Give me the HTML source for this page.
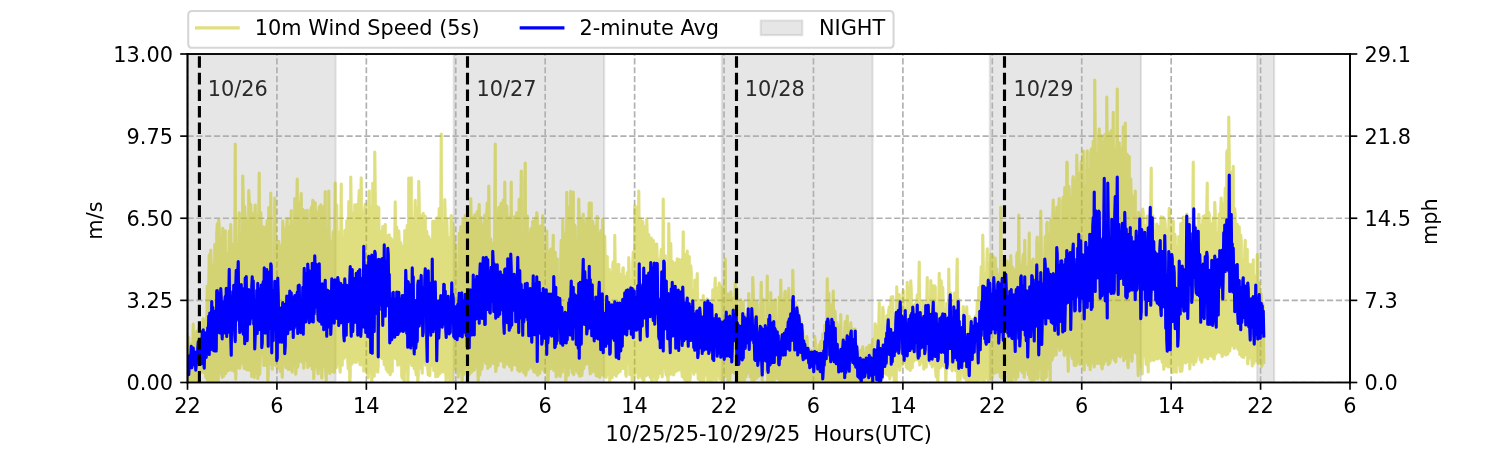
<!DOCTYPE html>
<html><head><meta charset="utf-8"><title>Wind Speed</title>
<style>html,body{margin:0;padding:0;background:#fff;overflow:hidden}svg{display:block}</style>
</head><body>
<svg width="1500" height="450" viewBox="0 0 720 216" version="1.1">
  <defs>
  <style type="text/css">*{stroke-linejoin: round; stroke-linecap: butt}</style>
 </defs>
 <g id="figure_1">
  <g id="patch_1">
   <path d="M 0 216 L 720 216 L 720 0 L 0 0 z
" style="fill: #ffffff"/>
  </g>
  <g id="axes_1">
   <g id="patch_2">
    <path d="M 90 183.6 L 648 183.6 L 648 25.92 L 90 25.92 z
" style="fill: #ffffff"/>
   </g>
   <g id="patch_3">
    <path d="M 79.269231 183.6 L 161.088 183.6 L 161.088 25.92 L 79.269231 25.92 z
" clip-path="url(#pb94ecb44f5)" style="fill: #808080; fill-opacity: 0.2; stroke-opacity: 0.2; stroke: #808080; stroke-linejoin: miter"/>
   </g>
   <g id="patch_4">
    <path d="M 217.776 183.6 L 290.016 183.6 L 290.016 25.92 L 217.776 25.92 z
" clip-path="url(#pb94ecb44f5)" style="fill: #808080; fill-opacity: 0.2; stroke-opacity: 0.2; stroke: #808080; stroke-linejoin: miter"/>
   </g>
   <g id="patch_5">
    <path d="M 346.464 183.6 L 418.848 183.6 L 418.848 25.92 L 346.464 25.92 z
" clip-path="url(#pb94ecb44f5)" style="fill: #808080; fill-opacity: 0.2; stroke-opacity: 0.2; stroke: #808080; stroke-linejoin: miter"/>
   </g>
   <g id="patch_6">
    <path d="M 475.104 183.6 L 547.68 183.6 L 547.68 25.92 L 475.104 25.92 z
" clip-path="url(#pb94ecb44f5)" style="fill: #808080; fill-opacity: 0.2; stroke-opacity: 0.2; stroke: #808080; stroke-linejoin: miter"/>
   </g>
   <g id="patch_7">
    <path d="M 603.456 183.6 L 611.616 183.6 L 611.616 25.92 L 603.456 25.92 z
" clip-path="url(#pb94ecb44f5)" style="fill: #808080; fill-opacity: 0.2; stroke-opacity: 0.2; stroke: #808080; stroke-linejoin: miter"/>
   </g>
   <g id="matplotlib.axis_1">
    <g id="xtick_1">
     <g id="line2d_1">
      <path d="M 90 183.6 L 90 25.92 " clip-path="url(#pb94ecb44f5)" style="fill: none; stroke-dasharray: 2.96,1.28; stroke-dashoffset: 0; stroke: #b0b0b0; stroke-width: 0.8"/>
     </g>
     <g id="line2d_2">
            <g>
       <path d="M 0 0 L 0 3.5" transform="translate(90 183.6)" style="stroke: #000000; stroke-width: 0.8"/>
      </g>
     </g>
     <g id="text_1">
      <text style="font-size: 10px; font-family: 'DejaVu Sans', 'Bitstream Vera Sans', 'Computer Modern Sans Serif', 'Lucida Grande', 'Verdana', 'Geneva', 'Lucid', 'Arial', 'Helvetica', 'Avant Garde', sans-serif; text-anchor: middle" x="90" y="198.198438" transform="rotate(-0 90 198.198438)">22</text>
     </g>
    </g>
    <g id="xtick_2">
     <g id="line2d_3">
      <path d="M 132.923077 183.6 L 132.923077 25.92 " clip-path="url(#pb94ecb44f5)" style="fill: none; stroke-dasharray: 2.96,1.28; stroke-dashoffset: 0; stroke: #b0b0b0; stroke-width: 0.8"/>
     </g>
     <g id="line2d_4">
      <g>
       <path d="M 0 0 L 0 3.5" transform="translate(132.923077 183.6)" style="stroke: #000000; stroke-width: 0.8"/>
      </g>
     </g>
     <g id="text_2">
      <text style="font-size: 10px; font-family: 'DejaVu Sans', 'Bitstream Vera Sans', 'Computer Modern Sans Serif', 'Lucida Grande', 'Verdana', 'Geneva', 'Lucid', 'Arial', 'Helvetica', 'Avant Garde', sans-serif; text-anchor: middle" x="132.923077" y="198.198438" transform="rotate(-0 132.923077 198.198438)">6</text>
     </g>
    </g>
    <g id="xtick_3">
     <g id="line2d_5">
      <path d="M 175.846154 183.6 L 175.846154 25.92 " clip-path="url(#pb94ecb44f5)" style="fill: none; stroke-dasharray: 2.96,1.28; stroke-dashoffset: 0; stroke: #b0b0b0; stroke-width: 0.8"/>
     </g>
     <g id="line2d_6">
      <g>
       <path d="M 0 0 L 0 3.5" transform="translate(175.846154 183.6)" style="stroke: #000000; stroke-width: 0.8"/>
      </g>
     </g>
     <g id="text_3">
      <text style="font-size: 10px; font-family: 'DejaVu Sans', 'Bitstream Vera Sans', 'Computer Modern Sans Serif', 'Lucida Grande', 'Verdana', 'Geneva', 'Lucid', 'Arial', 'Helvetica', 'Avant Garde', sans-serif; text-anchor: middle" x="175.846154" y="198.198438" transform="rotate(-0 175.846154 198.198438)">14</text>
     </g>
    </g>
    <g id="xtick_4">
     <g id="line2d_7">
      <path d="M 218.769231 183.6 L 218.769231 25.92 " clip-path="url(#pb94ecb44f5)" style="fill: none; stroke-dasharray: 2.96,1.28; stroke-dashoffset: 0; stroke: #b0b0b0; stroke-width: 0.8"/>
     </g>
     <g id="line2d_8">
      <g>
       <path d="M 0 0 L 0 3.5" transform="translate(218.769231 183.6)" style="stroke: #000000; stroke-width: 0.8"/>
      </g>
     </g>
     <g id="text_4">
      <text style="font-size: 10px; font-family: 'DejaVu Sans', 'Bitstream Vera Sans', 'Computer Modern Sans Serif', 'Lucida Grande', 'Verdana', 'Geneva', 'Lucid', 'Arial', 'Helvetica', 'Avant Garde', sans-serif; text-anchor: middle" x="218.769231" y="198.198438" transform="rotate(-0 218.769231 198.198438)">22</text>
     </g>
    </g>
    <g id="xtick_5">
     <g id="line2d_9">
      <path d="M 261.692308 183.6 L 261.692308 25.92 " clip-path="url(#pb94ecb44f5)" style="fill: none; stroke-dasharray: 2.96,1.28; stroke-dashoffset: 0; stroke: #b0b0b0; stroke-width: 0.8"/>
     </g>
     <g id="line2d_10">
      <g>
       <path d="M 0 0 L 0 3.5" transform="translate(261.692308 183.6)" style="stroke: #000000; stroke-width: 0.8"/>
      </g>
     </g>
     <g id="text_5">
      <text style="font-size: 10px; font-family: 'DejaVu Sans', 'Bitstream Vera Sans', 'Computer Modern Sans Serif', 'Lucida Grande', 'Verdana', 'Geneva', 'Lucid', 'Arial', 'Helvetica', 'Avant Garde', sans-serif; text-anchor: middle" x="261.692308" y="198.198438" transform="rotate(-0 261.692308 198.198438)">6</text>
     </g>
    </g>
    <g id="xtick_6">
     <g id="line2d_11">
      <path d="M 304.615385 183.6 L 304.615385 25.92 " clip-path="url(#pb94ecb44f5)" style="fill: none; stroke-dasharray: 2.96,1.28; stroke-dashoffset: 0; stroke: #b0b0b0; stroke-width: 0.8"/>
     </g>
     <g id="line2d_12">
      <g>
       <path d="M 0 0 L 0 3.5" transform="translate(304.615385 183.6)" style="stroke: #000000; stroke-width: 0.8"/>
      </g>
     </g>
     <g id="text_6">
      <text style="font-size: 10px; font-family: 'DejaVu Sans', 'Bitstream Vera Sans', 'Computer Modern Sans Serif', 'Lucida Grande', 'Verdana', 'Geneva', 'Lucid', 'Arial', 'Helvetica', 'Avant Garde', sans-serif; text-anchor: middle" x="304.615385" y="198.198438" transform="rotate(-0 304.615385 198.198438)">14</text>
     </g>
    </g>
    <g id="xtick_7">
     <g id="line2d_13">
      <path d="M 347.538462 183.6 L 347.538462 25.92 " clip-path="url(#pb94ecb44f5)" style="fill: none; stroke-dasharray: 2.96,1.28; stroke-dashoffset: 0; stroke: #b0b0b0; stroke-width: 0.8"/>
     </g>
     <g id="line2d_14">
      <g>
       <path d="M 0 0 L 0 3.5" transform="translate(347.538462 183.6)" style="stroke: #000000; stroke-width: 0.8"/>
      </g>
     </g>
     <g id="text_7">
      <text style="font-size: 10px; font-family: 'DejaVu Sans', 'Bitstream Vera Sans', 'Computer Modern Sans Serif', 'Lucida Grande', 'Verdana', 'Geneva', 'Lucid', 'Arial', 'Helvetica', 'Avant Garde', sans-serif; text-anchor: middle" x="347.538462" y="198.198438" transform="rotate(-0 347.538462 198.198438)">22</text>
     </g>
    </g>
    <g id="xtick_8">
     <g id="line2d_15">
      <path d="M 390.461538 183.6 L 390.461538 25.92 " clip-path="url(#pb94ecb44f5)" style="fill: none; stroke-dasharray: 2.96,1.28; stroke-dashoffset: 0; stroke: #b0b0b0; stroke-width: 0.8"/>
     </g>
     <g id="line2d_16">
      <g>
       <path d="M 0 0 L 0 3.5" transform="translate(390.461538 183.6)" style="stroke: #000000; stroke-width: 0.8"/>
      </g>
     </g>
     <g id="text_8">
      <text style="font-size: 10px; font-family: 'DejaVu Sans', 'Bitstream Vera Sans', 'Computer Modern Sans Serif', 'Lucida Grande', 'Verdana', 'Geneva', 'Lucid', 'Arial', 'Helvetica', 'Avant Garde', sans-serif; text-anchor: middle" x="390.461538" y="198.198438" transform="rotate(-0 390.461538 198.198438)">6</text>
     </g>
    </g>
    <g id="xtick_9">
     <g id="line2d_17">
      <path d="M 433.384615 183.6 L 433.384615 25.92 " clip-path="url(#pb94ecb44f5)" style="fill: none; stroke-dasharray: 2.96,1.28; stroke-dashoffset: 0; stroke: #b0b0b0; stroke-width: 0.8"/>
     </g>
     <g id="line2d_18">
      <g>
       <path d="M 0 0 L 0 3.5" transform="translate(433.384615 183.6)" style="stroke: #000000; stroke-width: 0.8"/>
      </g>
     </g>
     <g id="text_9">
      <text style="font-size: 10px; font-family: 'DejaVu Sans', 'Bitstream Vera Sans', 'Computer Modern Sans Serif', 'Lucida Grande', 'Verdana', 'Geneva', 'Lucid', 'Arial', 'Helvetica', 'Avant Garde', sans-serif; text-anchor: middle" x="433.384615" y="198.198438" transform="rotate(-0 433.384615 198.198438)">14</text>
     </g>
    </g>
    <g id="xtick_10">
     <g id="line2d_19">
      <path d="M 476.307692 183.6 L 476.307692 25.92 " clip-path="url(#pb94ecb44f5)" style="fill: none; stroke-dasharray: 2.96,1.28; stroke-dashoffset: 0; stroke: #b0b0b0; stroke-width: 0.8"/>
     </g>
     <g id="line2d_20">
      <g>
       <path d="M 0 0 L 0 3.5" transform="translate(476.307692 183.6)" style="stroke: #000000; stroke-width: 0.8"/>
      </g>
     </g>
     <g id="text_10">
      <text style="font-size: 10px; font-family: 'DejaVu Sans', 'Bitstream Vera Sans', 'Computer Modern Sans Serif', 'Lucida Grande', 'Verdana', 'Geneva', 'Lucid', 'Arial', 'Helvetica', 'Avant Garde', sans-serif; text-anchor: middle" x="476.307692" y="198.198438" transform="rotate(-0 476.307692 198.198438)">22</text>
     </g>
    </g>
    <g id="xtick_11">
     <g id="line2d_21">
      <path d="M 519.230769 183.6 L 519.230769 25.92 " clip-path="url(#pb94ecb44f5)" style="fill: none; stroke-dasharray: 2.96,1.28; stroke-dashoffset: 0; stroke: #b0b0b0; stroke-width: 0.8"/>
     </g>
     <g id="line2d_22">
      <g>
       <path d="M 0 0 L 0 3.5" transform="translate(519.230769 183.6)" style="stroke: #000000; stroke-width: 0.8"/>
      </g>
     </g>
     <g id="text_11">
      <text style="font-size: 10px; font-family: 'DejaVu Sans', 'Bitstream Vera Sans', 'Computer Modern Sans Serif', 'Lucida Grande', 'Verdana', 'Geneva', 'Lucid', 'Arial', 'Helvetica', 'Avant Garde', sans-serif; text-anchor: middle" x="519.230769" y="198.198438" transform="rotate(-0 519.230769 198.198438)">6</text>
     </g>
    </g>
    <g id="xtick_12">
     <g id="line2d_23">
      <path d="M 562.153846 183.6 L 562.153846 25.92 " clip-path="url(#pb94ecb44f5)" style="fill: none; stroke-dasharray: 2.96,1.28; stroke-dashoffset: 0; stroke: #b0b0b0; stroke-width: 0.8"/>
     </g>
     <g id="line2d_24">
      <g>
       <path d="M 0 0 L 0 3.5" transform="translate(562.153846 183.6)" style="stroke: #000000; stroke-width: 0.8"/>
      </g>
     </g>
     <g id="text_12">
      <text style="font-size: 10px; font-family: 'DejaVu Sans', 'Bitstream Vera Sans', 'Computer Modern Sans Serif', 'Lucida Grande', 'Verdana', 'Geneva', 'Lucid', 'Arial', 'Helvetica', 'Avant Garde', sans-serif; text-anchor: middle" x="562.153846" y="198.198438" transform="rotate(-0 562.153846 198.198438)">14</text>
     </g>
    </g>
    <g id="xtick_13">
     <g id="line2d_25">
      <path d="M 605.076923 183.6 L 605.076923 25.92 " clip-path="url(#pb94ecb44f5)" style="fill: none; stroke-dasharray: 2.96,1.28; stroke-dashoffset: 0; stroke: #b0b0b0; stroke-width: 0.8"/>
     </g>
     <g id="line2d_26">
      <g>
       <path d="M 0 0 L 0 3.5" transform="translate(605.076923 183.6)" style="stroke: #000000; stroke-width: 0.8"/>
      </g>
     </g>
     <g id="text_13">
      <text style="font-size: 10px; font-family: 'DejaVu Sans', 'Bitstream Vera Sans', 'Computer Modern Sans Serif', 'Lucida Grande', 'Verdana', 'Geneva', 'Lucid', 'Arial', 'Helvetica', 'Avant Garde', sans-serif; text-anchor: middle" x="605.076923" y="198.198438" transform="rotate(-0 605.076923 198.198438)">22</text>
     </g>
    </g>
    <g id="xtick_14">
     <g id="line2d_27">
      <path d="M 648 183.6 L 648 25.92 " clip-path="url(#pb94ecb44f5)" style="fill: none; stroke-dasharray: 2.96,1.28; stroke-dashoffset: 0; stroke: #b0b0b0; stroke-width: 0.8"/>
     </g>
     <g id="line2d_28">
      <g>
       <path d="M 0 0 L 0 3.5" transform="translate(648 183.6)" style="stroke: #000000; stroke-width: 0.8"/>
      </g>
     </g>
     <g id="text_14">
      <text style="font-size: 10px; font-family: 'DejaVu Sans', 'Bitstream Vera Sans', 'Computer Modern Sans Serif', 'Lucida Grande', 'Verdana', 'Geneva', 'Lucid', 'Arial', 'Helvetica', 'Avant Garde', sans-serif; text-anchor: middle" x="648" y="198.198438" transform="rotate(-0 648 198.198438)">6</text>
     </g>
    </g>
    <g id="text_15">
     <text style="font-size: 10px; font-family: 'DejaVu Sans', 'Bitstream Vera Sans', 'Computer Modern Sans Serif', 'Lucida Grande', 'Verdana', 'Geneva', 'Lucid', 'Arial', 'Helvetica', 'Avant Garde', sans-serif; text-anchor: middle" x="369" y="211.876563" transform="rotate(-0 369 211.876563)">10/25/25-10/29/25  Hours(UTC)</text>
    </g>
   </g>
   <g id="matplotlib.axis_2">
    <g id="ytick_1">
     <g id="line2d_29">
      <path d="M 90 183.6 L 648 183.6 " clip-path="url(#pb94ecb44f5)" style="fill: none; stroke-dasharray: 2.96,1.28; stroke-dashoffset: 0; stroke: #b0b0b0; stroke-width: 0.8"/>
     </g>
     <g id="line2d_30">
            <g>
       <path d="M 0 0 L -3.5 0" transform="translate(90 183.6)" style="stroke: #000000; stroke-width: 0.8"/>
      </g>
     </g>
     <g id="text_16">
      <text style="font-size: 10px; font-family: 'DejaVu Sans', 'Bitstream Vera Sans', 'Computer Modern Sans Serif', 'Lucida Grande', 'Verdana', 'Geneva', 'Lucid', 'Arial', 'Helvetica', 'Avant Garde', sans-serif; text-anchor: end" x="83" y="187.399219" transform="rotate(-0 83 187.399219)">0.00</text>
     </g>
    </g>
    <g id="ytick_2">
     <g id="line2d_31">
      <path d="M 90 144.18 L 648 144.18 " clip-path="url(#pb94ecb44f5)" style="fill: none; stroke-dasharray: 2.96,1.28; stroke-dashoffset: 0; stroke: #b0b0b0; stroke-width: 0.8"/>
     </g>
     <g id="line2d_32">
      <g>
       <path d="M 0 0 L -3.5 0" transform="translate(90 144.18)" style="stroke: #000000; stroke-width: 0.8"/>
      </g>
     </g>
     <g id="text_17">
      <text style="font-size: 10px; font-family: 'DejaVu Sans', 'Bitstream Vera Sans', 'Computer Modern Sans Serif', 'Lucida Grande', 'Verdana', 'Geneva', 'Lucid', 'Arial', 'Helvetica', 'Avant Garde', sans-serif; text-anchor: end" x="83" y="147.979219" transform="rotate(-0 83 147.979219)">3.25</text>
     </g>
    </g>
    <g id="ytick_3">
     <g id="line2d_33">
      <path d="M 90 104.76 L 648 104.76 " clip-path="url(#pb94ecb44f5)" style="fill: none; stroke-dasharray: 2.96,1.28; stroke-dashoffset: 0; stroke: #b0b0b0; stroke-width: 0.8"/>
     </g>
     <g id="line2d_34">
      <g>
       <path d="M 0 0 L -3.5 0" transform="translate(90 104.76)" style="stroke: #000000; stroke-width: 0.8"/>
      </g>
     </g>
     <g id="text_18">
      <text style="font-size: 10px; font-family: 'DejaVu Sans', 'Bitstream Vera Sans', 'Computer Modern Sans Serif', 'Lucida Grande', 'Verdana', 'Geneva', 'Lucid', 'Arial', 'Helvetica', 'Avant Garde', sans-serif; text-anchor: end" x="83" y="108.559219" transform="rotate(-0 83 108.559219)">6.50</text>
     </g>
    </g>
    <g id="ytick_4">
     <g id="line2d_35">
      <path d="M 90 65.34 L 648 65.34 " clip-path="url(#pb94ecb44f5)" style="fill: none; stroke-dasharray: 2.96,1.28; stroke-dashoffset: 0; stroke: #b0b0b0; stroke-width: 0.8"/>
     </g>
     <g id="line2d_36">
      <g>
       <path d="M 0 0 L -3.5 0" transform="translate(90 65.34)" style="stroke: #000000; stroke-width: 0.8"/>
      </g>
     </g>
     <g id="text_19">
      <text style="font-size: 10px; font-family: 'DejaVu Sans', 'Bitstream Vera Sans', 'Computer Modern Sans Serif', 'Lucida Grande', 'Verdana', 'Geneva', 'Lucid', 'Arial', 'Helvetica', 'Avant Garde', sans-serif; text-anchor: end" x="83" y="69.139219" transform="rotate(-0 83 69.139219)">9.75</text>
     </g>
    </g>
    <g id="ytick_5">
     <g id="line2d_37">
      <path d="M 90 25.92 L 648 25.92 " clip-path="url(#pb94ecb44f5)" style="fill: none; stroke-dasharray: 2.96,1.28; stroke-dashoffset: 0; stroke: #b0b0b0; stroke-width: 0.8"/>
     </g>
     <g id="line2d_38">
      <g>
       <path d="M 0 0 L -3.5 0" transform="translate(90 25.92)" style="stroke: #000000; stroke-width: 0.8"/>
      </g>
     </g>
     <g id="text_20">
      <text style="font-size: 10px; font-family: 'DejaVu Sans', 'Bitstream Vera Sans', 'Computer Modern Sans Serif', 'Lucida Grande', 'Verdana', 'Geneva', 'Lucid', 'Arial', 'Helvetica', 'Avant Garde', sans-serif; text-anchor: end" x="83" y="29.719219" transform="rotate(-0 83 29.719219)">13.00</text>
     </g>
    </g>
    <g id="text_21">
     <text style="font-size: 10px; font-family: 'DejaVu Sans', 'Bitstream Vera Sans', 'Computer Modern Sans Serif', 'Lucida Grande', 'Verdana', 'Geneva', 'Lucid', 'Arial', 'Helvetica', 'Avant Garde', sans-serif; text-anchor: middle" x="48.772" y="105.864" transform="rotate(-90 48.772 105.864)">m/s</text>
    </g>
   </g>
   <g id="line2d_39">
    <path d="M 90.359481 184.558209 L 90.600923 162.046357 L 90.842365 169.712031 L 91.078442 182.302172 L 91.319885 181.841262 L 91.561327 170.379138 L 91.797404 165.321249 L 92.038846 183.163348 L 92.280288 180.895182 L 92.757808 155.593606 L 92.99925 184.558209 L 93.240692 183.806197 L 93.482135 167.868388 L 93.718212 160.772788 L 93.959654 184.352012 L 94.201096 183.794068 L 94.442538 159.086825 L 94.678615 166.243071 L 94.920058 184.558209 L 95.1615 182.775212 L 95.397577 157.570671 L 95.639019 158.807852 L 95.880462 179.269865 L 96.121904 178.55424 L 96.357981 165.260603 L 96.599423 165.588092 L 96.840865 177.220025 L 97.082308 178.590628 L 97.318385 158.249908 L 97.559827 153.046468 L 97.801269 176.492271 L 98.037346 178.808954 L 98.278788 154.162357 L 98.520231 154.90224 L 98.761673 180.676855 L 98.99775 181.331834 L 99.480635 137.290597 L 99.722077 183.733422 L 99.958154 184.558209 L 100.199596 137.472535 L 100.441038 122.323126 L 100.682481 183.163348 L 100.918558 184.558209 L 101.16 120.05496 L 101.401442 127.805538 L 101.637519 183.272511 L 101.878962 180.91944 L 102.120404 127.417403 L 102.361846 133.942929 L 102.597923 184.558209 L 102.839365 180.664726 L 103.080808 117.435046 L 103.32225 124.457871 L 103.558327 182.847988 L 103.799769 180.094652 L 104.041212 112.292252 L 104.282654 107.452689 L 104.518731 184.558209 L 104.760173 184.558209 L 105.001615 105.596917 L 105.237692 108.956714 L 105.479135 175.825163 L 105.720577 178.748308 L 105.962019 117.471434 L 106.198096 114.269317 L 106.439538 179.427545 L 106.680981 181.125637 L 106.922423 109.551046 L 107.1585 133.251563 L 107.399942 180.519175 L 107.641385 176.856148 L 107.877462 126.228738 L 108.118904 110.776098 L 108.360346 179.197089 L 108.601788 172.865631 L 108.837865 121.619631 L 109.079308 127.817668 L 109.32075 175.703871 L 109.562192 177.899262 L 109.798269 129.04272 L 110.039712 110.933778 L 110.281154 177.098732 L 110.522596 174.939729 L 110.758673 107.804437 L 111.000115 121.595372 L 111.241558 177.693065 L 111.477635 175.703871 L 111.719077 118.32048 L 111.960519 117.410788 L 112.201962 174.551594 L 112.438038 178.263138 L 112.920923 69.12432 L 113.162365 181.926166 L 113.398442 172.489625 L 113.639885 118.63584 L 113.881327 117.240978 L 114.117404 174.600111 L 114.358846 176.383108 L 114.600288 115.579274 L 114.841731 102.127957 L 115.077808 176.759114 L 115.31925 174.418172 L 115.560692 111.746437 L 115.802135 112.32864 L 116.038212 174.333268 L 116.279654 170.379138 L 116.521096 84.479926 L 116.762538 96.318055 L 116.998615 173.156732 L 117.240058 176.844018 L 117.4815 99.095649 L 117.717577 108.495803 L 117.959019 174.563723 L 118.200462 177.329188 L 118.441904 110.715452 L 118.677981 104.626578 L 118.919423 177.583902 L 119.160865 175.703871 L 119.402308 91.527009 L 119.638385 96.366572 L 119.879827 175.000375 L 120.121269 177.935649 L 120.357346 98.088923 L 120.598788 107.197975 L 120.840231 180.725372 L 121.081673 175.885809 L 121.31775 103.34088 L 121.559192 102.576738 L 121.800635 176.795502 L 122.042077 181.174154 L 122.278154 103.668369 L 122.519596 98.404283 L 122.761038 176.152652 L 123.002481 179.02728 L 123.238558 103.547077 L 123.48 107.840825 L 123.721442 181.622935 L 123.957519 179.512449 L 124.198962 103.243846 L 124.440404 83.036548 L 124.681846 179.573095 L 124.917923 170.439785 L 125.159365 102.030923 L 125.400808 110.642677 L 125.64225 169.517963 L 125.878327 170.330622 L 126.119769 115.991668 L 126.361212 108.823292 L 126.602654 175.40064 L 126.838731 173.278025 L 127.080173 115.397335 L 127.321615 109.284203 L 127.557692 175.376382 L 127.799135 175.170185 L 128.040577 109.660209 L 128.282019 105.827372 L 128.518096 184.558209 L 128.759538 179.609483 L 129.000981 99.617206 L 129.242423 110.715452 L 129.4785 174.672886 L 129.719942 174.369655 L 129.961385 92.642898 L 130.197462 115.081975 L 130.438904 172.5624 L 130.680346 177.232154 L 130.921788 129.188271 L 131.157865 125.052203 L 131.399308 172.465366 L 131.64075 174.951858 L 131.882192 95.044486 L 132.118269 110.096862 L 132.359712 175.485545 L 132.601154 174.030037 L 132.842596 118.490289 L 133.078673 120.904006 L 133.320115 176.601434 L 133.561558 175.740258 L 133.797635 115.7976 L 134.039077 122.589969 L 134.280519 174.515206 L 134.521962 178.23888 L 134.758038 118.00512 L 134.999481 124.846006 L 135.240923 175.946455 L 135.482365 181.028603 L 135.718442 106.142732 L 135.959885 110.715452 L 136.201327 173.375058 L 136.437404 174.539465 L 136.678846 112.073926 L 136.920288 110.048345 L 137.161731 176.383108 L 137.397808 176.237557 L 137.63925 108.423028 L 137.880692 105.026843 L 138.122135 176.795502 L 138.358212 177.280671 L 138.599654 108.677742 L 138.841096 111.055071 L 139.082538 176.201169 L 139.318615 177.183637 L 139.560058 116.003797 L 139.8015 101.072714 L 140.037577 176.844018 L 140.279019 178.590628 L 140.520462 108.786905 L 140.761904 108.119797 L 140.997981 175.279348 L 141.239423 175.048892 L 141.480865 95.335588 L 141.722308 102.115828 L 141.958385 179.633742 L 142.199827 175.437028 L 142.441269 101.582142 L 142.677346 85.99608 L 142.918788 176.261815 L 143.160231 173.811711 L 143.401673 112.571225 L 143.63775 97.640142 L 143.879192 172.465366 L 144.120635 173.423575 L 144.362077 98.658997 L 144.598154 92.861225 L 144.839596 172.295557 L 145.081038 173.799582 L 145.322481 100.478382 L 145.558558 107.695274 L 145.8 176.746985 L 146.041442 173.120345 L 146.277519 101.242523 L 146.518962 102.103698 L 146.760404 171.992326 L 147.001846 172.817114 L 147.237923 105.245169 L 147.479365 100.951422 L 147.720808 176.358849 L 147.96225 173.496351 L 148.198327 107.586111 L 148.439769 111.758566 L 148.681212 175.291477 L 148.922654 173.799582 L 149.158731 101.218265 L 149.400173 99.677852 L 149.641615 174.527335 L 149.877692 177.13512 L 150.119135 96.208892 L 150.360577 96.815354 L 150.602019 181.647194 L 150.838096 176.03136 L 151.079538 99.629335 L 151.320981 97.288394 L 151.562423 175.570449 L 151.7985 174.782049 L 152.039942 101.848985 L 152.281385 107.501206 L 152.517462 177.680935 L 152.758904 179.403286 L 153.000346 108.447286 L 153.241788 99.229071 L 153.477865 176.067748 L 153.719308 177.038086 L 153.96075 98.367895 L 154.202192 102.140086 L 154.438269 181.39248 L 154.679712 173.690418 L 154.921154 103.098295 L 155.162596 99.411009 L 155.398673 175.303606 L 155.640115 176.164782 L 155.881558 112.765292 L 156.117635 91.890886 L 156.359077 177.753711 L 156.600519 182.787342 L 156.841962 109.80576 L 157.078038 121.00104 L 157.319481 178.008425 L 157.560923 177.656677 L 157.802365 91.684689 L 158.038442 114.317834 L 158.279885 179.269865 L 158.521327 178.335914 L 158.757404 123.815022 L 158.998846 116.246382 L 159.240288 178.372302 L 159.481731 174.818437 L 159.717808 116.258511 L 159.95925 111.261268 L 160.200692 174.903342 L 160.442135 178.736178 L 160.678212 110.569902 L 160.919654 87.839723 L 161.161096 175.618966 L 161.402538 176.455883 L 161.638615 98.29512 L 161.880058 118.611582 L 162.1215 174.490948 L 162.357577 174.903342 L 162.599019 111.406818 L 162.840462 116.670905 L 163.081904 175.885809 L 163.317981 178.614886 L 163.559423 114.390609 L 163.800865 88.324892 L 164.042308 173.520609 L 164.278385 175.267218 L 164.519827 114.038862 L 164.761269 115.397335 L 164.997346 170.415526 L 165.238788 171.955938 L 165.480231 110.521385 L 165.721673 113.456658 L 165.95775 171.070505 L 166.199192 169.008535 L 166.440635 106.045698 L 166.682077 113.359625 L 166.918154 173.265895 L 167.159596 177.062345 L 167.401038 96.706191 L 167.642481 97.530978 L 167.878558 184.558209 L 168.12 179.924843 L 168.361442 84.965095 L 168.597519 103.474302 L 168.838962 174.76992 L 169.080404 173.083957 L 169.321846 102.443317 L 169.557923 102.964874 L 169.799365 173.872357 L 170.040808 171.592062 L 170.28225 98.282991 L 170.518327 107.016037 L 170.759769 173.011182 L 171.001212 173.920874 L 171.242654 98.13744 L 171.478731 101.751951 L 171.720173 172.307686 L 171.961615 172.5624 L 172.197692 96.572769 L 172.439135 91.466363 L 172.680577 174.272622 L 172.922019 175.061022 L 173.158096 100.332831 L 173.399538 85.389618 L 173.640981 172.234911 L 173.882423 175.109538 L 174.1185 102.07944 L 174.359942 104.893422 L 174.601385 178.129717 L 174.837462 174.660757 L 175.078904 100.587545 L 175.320346 98.088923 L 175.561788 177.13512 L 175.797865 177.741582 L 176.039308 106.931132 L 176.28075 104.650837 L 176.522192 179.633742 L 176.758269 181.331834 L 176.999712 100.587545 L 177.241154 91.696818 L 177.482596 178.760437 L 177.718673 178.505723 L 177.960115 104.638708 L 178.201558 99.059262 L 178.437635 184.558209 L 178.679077 173.82384 L 178.920519 87.961015 L 179.161962 97.652271 L 179.398038 178.699791 L 179.639481 180.616209 L 179.880923 72.957157 L 180.122365 94.377378 L 180.358442 173.459963 L 180.599885 177.656677 L 180.841327 98.962228 L 181.077404 107.197975 L 181.318846 178.675532 L 181.560288 174.45456 L 181.801731 99.689982 L 182.037808 123.693729 L 182.27925 170.367009 L 182.520692 171.446511 L 182.762135 112.377157 L 182.998212 111.055071 L 183.239654 171.628449 L 183.481096 171.992326 L 183.722538 108.762646 L 183.958615 111.528111 L 184.200058 171.14328 L 184.4415 175.000375 L 184.677577 110.861003 L 184.919019 107.804437 L 185.160462 173.375058 L 185.401904 177.341317 L 185.637981 113.068523 L 185.879423 115.32456 L 186.120865 178.384431 L 186.362308 178.602757 L 186.598385 121.231495 L 186.839827 112.753163 L 187.081269 176.237557 L 187.317346 179.900585 L 187.558788 117.338012 L 187.800231 114.499772 L 188.041673 178.166105 L 188.27775 178.275268 L 188.519192 115.373077 L 188.760635 116.258511 L 189.002077 171.943809 L 189.238154 171.422252 L 189.479596 116.476837 L 189.721038 96.839612 L 189.962481 170.633852 L 190.198558 172.174265 L 190.44 109.005231 L 190.681442 120.503742 L 190.917519 175.267218 L 191.158962 173.205249 L 191.400404 110.921649 L 191.641846 116.100831 L 191.877923 174.976117 L 192.119365 175.08528 L 192.360808 116.416191 L 192.60225 119.630437 L 192.838327 180.543434 L 193.079769 181.465255 L 193.321212 123.414757 L 193.562654 118.150671 L 193.798731 178.954505 L 194.040173 184.558209 L 194.281615 110.642677 L 194.517692 115.421594 L 194.759135 178.020554 L 195.000577 176.613563 L 195.242019 114.232929 L 195.478096 108.095538 L 195.719538 184.558209 L 195.960981 175.958585 L 196.202423 85.438135 L 196.4385 101.946018 L 196.679942 173.03544 L 196.921385 174.127071 L 197.157462 99.362492 L 197.398904 85.36536 L 197.640346 175.352123 L 197.881788 174.357526 L 198.117865 112.389286 L 198.359308 105.718209 L 198.60075 173.945132 L 198.842192 177.074474 L 199.078269 107.185846 L 199.319712 96.136117 L 199.561154 177.535385 L 199.802596 179.924843 L 200.038673 102.055182 L 200.280115 99.750628 L 200.521558 183.490837 L 200.757635 180.397883 L 200.999077 87.075582 L 201.240519 98.913711 L 201.481962 176.746985 L 201.718038 175.40064 L 201.959481 103.522818 L 202.200923 106.797711 L 202.442365 175.776646 L 202.678442 179.148572 L 202.919885 113.614338 L 203.161327 102.431188 L 203.397404 173.702548 L 203.638846 173.362929 L 203.880288 113.359625 L 204.121731 103.850308 L 204.357808 175.267218 L 204.59925 175.048892 L 204.840692 111.055071 L 205.082135 115.882505 L 205.318212 176.795502 L 205.559654 179.900585 L 205.801096 113.614338 L 206.042538 120.261157 L 206.278615 180.385754 L 206.520058 174.891212 L 206.7615 115.069846 L 206.997577 115.191138 L 207.239019 174.1392 L 207.480462 175.437028 L 207.721904 106.239766 L 207.957981 122.226092 L 208.199423 177.826486 L 208.440865 177.025957 L 208.682308 106.057828 L 208.918385 123.354111 L 209.159827 180.810277 L 209.401269 178.214622 L 209.637346 114.887908 L 209.878788 104.505286 L 210.120231 180.701114 L 210.361673 179.985489 L 210.59775 113.856923 L 210.839192 100.065988 L 211.080635 179.34264 L 211.322077 178.335914 L 211.558154 102.843582 L 211.799596 64.321145 L 212.041038 176.249686 L 212.282481 178.469335 L 212.518558 110.290929 L 212.76 107.404172 L 213.001442 178.469335 L 213.237519 175.861551 L 213.478962 95.808628 L 213.720404 104.832775 L 213.961846 179.160702 L 214.197923 183.090572 L 214.439365 105.111748 L 214.680808 113.480917 L 214.92225 181.343963 L 215.158327 181.113508 L 215.399769 114.681711 L 215.641212 114.281446 L 215.882654 184.558209 L 216.118731 180.616209 L 216.360173 121.765182 L 216.601615 103.462172 L 216.837692 177.171508 L 217.079135 184.558209 L 217.320577 107.088812 L 217.562019 113.844794 L 217.798096 177.317058 L 218.039538 176.055618 L 218.280981 116.343415 L 218.522423 119.642566 L 218.7585 173.083957 L 218.999942 175.521932 L 219.241385 130.061575 L 219.477462 134.464486 L 219.718904 177.050215 L 219.960346 180.992215 L 220.201788 129.637052 L 220.437865 112.001151 L 220.679308 178.214622 L 220.92075 177.693065 L 221.162192 108.871809 L 221.398269 117.568468 L 221.639712 178.457206 L 221.881154 184.558209 L 222.122596 111.515982 L 222.358673 105.366462 L 222.600115 179.682258 L 222.841558 176.710597 L 223.077635 114.402738 L 223.319077 103.437914 L 223.560519 174.539465 L 223.801962 176.03136 L 224.038038 105.172394 L 224.279481 110.157508 L 224.520923 180.749631 L 224.762365 174.9276 L 224.998442 101.278911 L 225.239885 112.243735 L 225.481327 179.573095 L 225.717404 176.649951 L 225.958846 95.287071 L 226.200288 109.041618 L 226.441731 178.529982 L 226.677808 173.314412 L 226.91925 104.420382 L 227.160692 107.392043 L 227.402135 174.490948 L 227.638212 177.644548 L 227.879654 103.134683 L 228.121096 109.987698 L 228.362538 174.636498 L 228.598615 176.067748 L 228.840058 103.377268 L 229.0815 101.727692 L 229.317577 174.418172 L 229.559019 184.558209 L 229.800462 101.327428 L 230.041904 98.198086 L 230.277981 180.009748 L 230.519423 176.989569 L 230.760865 104.28696 L 231.002308 108.447286 L 231.238385 177.13512 L 231.479827 176.176911 L 231.721269 109.187169 L 231.957346 108.204702 L 232.198788 173.03544 L 232.440231 171.519286 L 232.681673 103.243846 L 232.91775 109.987698 L 233.159192 174.503077 L 233.400635 173.156732 L 233.642077 101.812597 L 233.878154 97.446074 L 234.119596 176.880406 L 234.361038 176.261815 L 234.602481 89.283102 L 234.838558 110.654806 L 235.08 175.267218 L 235.321442 175.728129 L 235.557519 114.633194 L 235.798962 122.856812 L 236.040404 173.484222 L 236.281846 174.127071 L 236.517923 119.654695 L 236.759365 116.828585 L 237.000808 174.466689 L 237.24225 174.600111 L 237.478327 101.363815 L 237.719769 69.12432 L 237.961212 178.311655 L 238.202654 175.352123 L 238.438731 102.892098 L 238.680173 114.269317 L 238.921615 175.473415 L 239.157692 173.03544 L 239.399135 99.665723 L 239.640577 102.055182 L 239.882019 173.19312 L 240.118096 173.132474 L 240.359538 98.440671 L 240.600981 97.6644 L 240.842423 173.278025 L 241.0785 172.40472 L 241.319942 106.288283 L 241.561385 96.026954 L 241.797462 176.019231 L 242.038904 176.237557 L 242.280346 87.354554 L 242.521788 108.010634 L 242.757865 173.423575 L 242.999308 174.648628 L 243.24075 98.877323 L 243.482192 109.478271 L 243.718269 173.726806 L 243.959712 174.745662 L 244.201154 104.214185 L 244.442596 105.960794 L 244.678673 175.861551 L 244.920115 175.437028 L 245.397635 87.354554 L 245.639077 177.632418 L 245.880519 170.791532 L 246.121962 105.051102 L 246.358038 104.481028 L 246.599481 172.695822 L 246.840923 175.073151 L 247.082365 103.9716 L 247.318442 105.924406 L 247.559885 173.775323 L 247.801327 175.230831 L 248.037404 102.176474 L 248.278846 113.90544 L 248.520288 177.741582 L 248.761731 176.261815 L 248.997808 111.989022 L 249.23925 95.699465 L 249.480692 178.275268 L 249.722135 177.013828 L 249.958212 113.723502 L 250.199654 82.078338 L 250.441096 177.547514 L 250.682538 175.934326 L 250.918615 121.255754 L 251.160058 116.197865 L 251.4015 178.893858 L 251.637577 175.982843 L 251.879019 86.78448 L 252.120462 78.245502 L 252.361904 180.106782 L 252.597981 177.862874 L 252.839423 113.020006 L 253.080865 103.741145 L 253.322308 176.941052 L 253.558385 177.474738 L 253.799827 117.338012 L 254.041269 111.879858 L 254.277346 176.104135 L 254.518788 174.685015 L 254.760231 110.290929 L 255.001673 109.587434 L 255.23775 173.799582 L 255.479192 176.81976 L 255.720635 106.227637 L 255.962077 117.920215 L 256.198154 178.432948 L 256.439596 177.887132 L 256.681038 109.854277 L 256.922481 104.711483 L 257.158558 178.736178 L 257.4 179.100055 L 257.641442 102.115828 L 257.877519 104.323348 L 258.118962 180.094652 L 258.360404 177.984166 L 258.601846 110.169637 L 258.837923 108.702 L 259.079365 179.245606 L 259.320808 176.674209 L 259.56225 116.404062 L 259.798327 108.289606 L 260.039769 175.740258 L 260.281212 177.074474 L 260.522654 103.522818 L 260.758731 115.591403 L 261.000173 174.757791 L 261.241615 178.251009 L 261.477692 123.232818 L 261.719135 124.506388 L 261.960577 175.703871 L 262.202019 177.220025 L 262.438096 110.788228 L 262.679538 132.220578 L 262.920981 184.558209 L 263.162423 181.016474 L 263.3985 120.588646 L 263.639942 130.643778 L 263.881385 177.183637 L 264.117462 174.442431 L 264.358904 119.497015 L 264.600346 124.494258 L 264.841788 176.771243 L 265.077865 175.788775 L 265.319308 127.429532 L 265.56075 112.971489 L 265.802192 177.753711 L 266.038269 177.025957 L 266.279712 125.391822 L 266.521154 121.073815 L 266.762596 175.837292 L 266.998673 180.883052 L 267.240115 124.130382 L 267.481558 124.385095 L 267.717635 176.358849 L 267.959077 179.936972 L 268.200519 134.270418 L 268.441962 132.463163 L 268.678038 179.585225 L 268.919481 180.676855 L 269.160923 124.955169 L 269.402365 115.32456 L 269.638442 171.397994 L 269.879885 178.614886 L 270.121327 105.645434 L 270.357404 115.736954 L 270.598846 175.206572 L 270.840288 176.055618 L 271.081731 112.522708 L 271.317808 112.231606 L 271.55925 184.558209 L 271.800692 177.899262 L 272.042135 92.351797 L 272.278212 107.076683 L 272.519654 180.143169 L 272.761096 180.094652 L 273.002538 99.520172 L 273.238615 103.401526 L 273.480058 176.286074 L 273.7215 175.946455 L 273.957577 91.854498 L 274.199019 97.482462 L 274.440462 176.637822 L 274.681904 178.918117 L 274.917981 100.429865 L 275.159423 92.169858 L 275.400865 179.852068 L 275.642308 176.746985 L 275.878385 108.034892 L 276.119827 108.896068 L 276.361269 177.511126 L 276.597346 177.814357 L 276.838788 115.118363 L 277.080231 115.7976 L 277.321673 178.493594 L 277.55775 179.197089 L 277.799192 95.517526 L 278.040635 107.258622 L 278.282077 180.555563 L 278.518154 179.245606 L 278.759596 106.106345 L 279.001038 112.510578 L 279.242481 180.264462 L 279.478558 177.996295 L 279.72 105.70608 L 279.961442 102.831452 L 280.197519 177.001698 L 280.438962 172.283428 L 280.680404 110.788228 L 280.921846 107.658886 L 281.157923 173.290154 L 281.399365 174.842695 L 281.640808 105.512012 L 281.88225 109.4904 L 282.118327 174.357526 L 282.359769 174.114942 L 282.601212 106.361058 L 282.842654 97.433945 L 283.078731 176.528658 L 283.320173 179.476062 L 283.561615 110.339446 L 283.797692 97.433945 L 284.039135 174.539465 L 284.280577 178.529982 L 284.522019 106.409575 L 284.758096 110.861003 L 284.999538 178.190363 L 285.240981 178.129717 L 285.482423 108.629225 L 285.7185 114.499772 L 285.959942 178.445077 L 286.201385 180.28872 L 286.437462 108.483674 L 286.678904 103.898825 L 286.920346 179.536708 L 287.161788 180.713243 L 287.397865 112.280123 L 287.639308 125.901249 L 287.88075 181.125637 L 288.122192 175.364252 L 288.358269 110.703323 L 288.599712 121.364917 L 288.841154 177.401963 L 289.082596 179.682258 L 289.318673 105.269428 L 289.560115 127.805538 L 289.801558 180.397883 L 290.037635 179.209218 L 290.279077 113.371754 L 290.520519 126.713908 L 290.761962 178.627015 L 290.998038 181.113508 L 291.239481 129.552148 L 291.480923 123.196431 L 291.722365 179.645871 L 291.958442 175.121668 L 292.199885 138.309452 L 292.441327 129.285305 L 292.677404 183.515095 L 292.918846 177.013828 L 293.160288 130.886363 L 293.401731 135.944252 L 293.637808 175.667483 L 293.87925 181.149895 L 294.120692 127.211206 L 294.362135 125.682923 L 294.598212 179.524578 L 294.839654 179.670129 L 295.081096 112.995748 L 295.322538 131.128948 L 295.558615 177.76584 L 295.800058 180.616209 L 296.0415 129.685569 L 296.277577 127.089914 L 296.519019 179.051538 L 296.760462 178.930246 L 297.001904 126.823071 L 297.237981 142.251452 L 297.479423 178.153975 L 297.720865 178.141846 L 297.962308 131.808185 L 298.198385 132.354 L 298.439827 176.856148 L 298.681269 173.423575 L 298.917346 129.564277 L 299.158788 128.545422 L 299.400231 176.831889 L 299.641673 173.920874 L 299.87775 132.681489 L 300.119192 136.065545 L 300.360635 179.706517 L 300.602077 180.591951 L 300.838154 138.552037 L 301.079596 130.813588 L 301.321038 174.272622 L 301.562481 172.780726 L 301.798558 123.657342 L 302.04 130.352677 L 302.281442 179.742905 L 302.517519 177.547514 L 302.758962 134.597908 L 303.000404 142.967077 L 303.241846 178.153975 L 303.477923 183.066314 L 303.719365 127.017138 L 303.960808 120.976782 L 304.20225 181.368222 L 304.438327 179.742905 L 304.679769 98.780289 L 304.921212 108.993102 L 305.162654 177.001698 L 305.398731 178.372302 L 305.640173 99.447397 L 305.881615 111.503852 L 306.117692 178.542111 L 306.359135 181.453126 L 306.600577 91.684689 L 306.842019 116.367674 L 307.078096 180.191686 L 307.319538 179.391157 L 307.560981 105.208782 L 307.802423 112.80168 L 308.0385 180.955828 L 308.279942 181.768486 L 308.521385 106.361058 L 308.757462 116.379803 L 308.998904 184.558209 L 309.240346 177.353446 L 309.481788 111.503852 L 309.717865 108.811163 L 309.959308 176.941052 L 310.20075 180.410012 L 310.442192 105.087489 L 310.678269 113.383883 L 310.919712 179.827809 L 311.161154 177.414092 L 311.402596 112.607612 L 311.638673 120.722068 L 311.880115 179.075797 L 312.121558 181.137766 L 312.357635 120.200511 L 312.599077 114.317834 L 312.840519 182.702437 L 313.081962 182.908634 L 313.318038 120.333932 L 313.559481 115.360948 L 313.800923 179.924843 L 314.042365 180.300849 L 314.278442 117.544209 L 314.519885 117.168203 L 314.761327 184.558209 L 314.997404 184.558209 L 315.238846 117.168203 L 315.480288 124.748972 L 315.721731 181.513772 L 315.957808 178.651274 L 316.19925 130.194997 L 316.440692 124.688326 L 316.682135 176.370978 L 316.918212 179.148572 L 317.159654 124.603422 L 317.401096 119.775988 L 317.642538 176.868277 L 317.878615 180.883052 L 318.3615 95.517526 L 318.597577 175.582578 L 318.839019 176.5044 L 319.080462 123.002363 L 319.321904 122.699132 L 319.557981 178.808954 L 319.799423 180.021877 L 320.040865 129.370209 L 320.282308 128.424129 L 320.518385 181.198412 L 320.759827 184.558209 L 321.001269 107.270751 L 321.237346 120.455225 L 321.478788 177.838615 L 321.720231 179.597354 L 321.961673 116.949877 L 322.19775 130.158609 L 322.439192 179.488191 L 322.680635 177.317058 L 322.922077 125.610148 L 323.158154 127.562954 L 323.399596 179.97336 L 323.641038 177.147249 L 323.882481 133.190917 L 324.118558 126.434935 L 324.36 177.887132 L 324.601442 178.190363 L 324.837519 129.297434 L 325.078962 124.227415 L 325.320404 177.680935 L 325.561846 176.140523 L 325.797923 124.457871 L 326.039365 139.413212 L 326.280808 175.910068 L 326.52225 177.596031 L 326.758327 134.064222 L 326.999769 124.748972 L 327.241212 177.353446 L 327.482654 180.76176 L 327.718731 129.2004 L 327.960173 111.273397 L 328.201615 179.767163 L 328.437692 181.938295 L 328.679135 122.189705 L 328.920577 131.553471 L 329.162019 182.581145 L 329.398096 183.223994 L 329.639538 130.728683 L 329.880981 120.528 L 330.122423 181.962554 L 330.3585 184.558209 L 330.599942 130.571003 L 330.841385 123.147914 L 331.077462 182.945022 L 331.318904 180.992215 L 331.560346 127.6236 L 331.801788 130.801458 L 332.037865 177.862874 L 332.279308 177.92352 L 332.52075 139.510246 L 332.762192 142.6032 L 332.998269 179.573095 L 333.239712 178.251009 L 333.481154 134.391711 L 333.722596 142.530425 L 333.958673 178.311655 L 334.200115 177.632418 L 334.441558 141.268985 L 334.677635 131.347274 L 334.919077 176.734855 L 335.160519 182.035329 L 335.401962 143.852511 L 335.638038 146.630105 L 335.879481 180.60408 L 336.120923 184.279237 L 336.362365 145.635508 L 336.598442 144.204258 L 336.839885 184.558209 L 337.081327 183.405932 L 337.317404 150.766172 L 337.558846 141.863317 L 337.800288 183.017797 L 338.041731 180.094652 L 338.277808 144.277034 L 338.51925 149.395569 L 338.760692 179.900585 L 339.002135 179.670129 L 339.238212 149.650283 L 339.479654 143.440117 L 339.721096 184.024523 L 339.962538 180.907311 L 340.198615 151.772898 L 340.440058 144.604523 L 340.6815 182.471982 L 340.917577 181.986812 L 341.159019 145.744671 L 341.400462 145.356535 L 341.641904 184.558209 L 341.877981 181.380351 L 342.119423 139.073594 L 342.360865 140.55336 L 342.602308 181.683582 L 342.838385 178.469335 L 343.079827 139.485988 L 343.321269 133.482018 L 343.557346 181.841262 L 343.798788 184.352012 L 344.040231 138.321582 L 344.281673 140.492714 L 344.51775 180.28872 L 344.759192 179.852068 L 345.000635 140.092449 L 345.242077 135.859348 L 345.478154 182.0232 L 345.719596 181.162025 L 345.961038 137.339114 L 346.202481 138.430745 L 346.438558 181.101378 L 346.68 182.920763 L 346.921442 138.430745 L 347.157519 146.363262 L 347.398962 180.543434 L 347.640404 179.621612 L 347.881846 134.743458 L 348.117923 124.324449 L 348.359365 178.954505 L 348.600808 180.591951 L 348.84225 148.619298 L 349.078327 141.111305 L 349.319769 179.97336 L 349.561212 184.412658 L 349.802654 141.135563 L 350.038731 148.473748 L 350.280173 182.459852 L 350.521615 178.069071 L 350.757692 140.08032 L 350.999135 153.665058 L 351.240577 177.911391 L 351.482019 178.517852 L 351.718096 144.131483 L 351.959538 143.161145 L 352.200981 178.153975 L 352.442423 179.02728 L 352.6785 148.194775 L 352.919942 135.798702 L 353.161385 178.129717 L 353.397462 179.34264 L 353.638904 138.151772 L 353.880346 151.227083 L 354.121788 182.8116 L 354.357865 184.497563 L 354.599308 150.632751 L 354.84075 147.078886 L 355.082192 182.471982 L 355.318269 181.453126 L 355.559712 143.925286 L 355.801154 146.460295 L 356.042596 180.422142 L 356.278673 184.558209 L 356.520115 145.938738 L 356.761558 144.81072 L 356.997635 183.430191 L 357.239077 183.066314 L 357.480519 151.057274 L 357.721962 151.239212 L 357.958038 181.052862 L 358.199481 180.240203 L 358.440923 154.065323 L 358.682365 151.979095 L 358.918442 178.893858 L 359.159885 178.639145 L 359.401327 140.892978 L 359.637404 149.638154 L 359.878846 177.074474 L 360.120288 180.858794 L 360.361731 152.270197 L 360.597808 144.483231 L 360.83925 180.203815 L 361.080692 183.842585 L 361.322135 133.178788 L 361.558212 140.177354 L 361.799654 184.558209 L 362.041096 180.349366 L 362.282538 145.817446 L 362.518615 152.524911 L 362.760058 180.870923 L 363.0015 181.635065 L 363.237577 144.992658 L 363.479019 146.533071 L 363.720462 179.136443 L 363.961904 180.834535 L 364.197981 154.307908 L 364.439423 151.797157 L 364.680865 180.179557 L 364.922308 177.414092 L 365.158385 147.976449 L 365.399827 135.495471 L 365.641269 178.724049 L 365.877346 182.484111 L 366.118788 146.217711 L 366.360231 143.658443 L 366.601673 177.171508 L 366.83775 176.989569 L 367.079192 158.043711 L 367.320635 154.987145 L 367.562077 176.892535 L 367.798154 178.784695 L 368.281038 132.475292 L 368.522481 183.054185 L 368.758558 182.229397 L 369 147.818769 L 369.241442 150.438683 L 369.477519 184.558209 L 369.718962 182.156622 L 369.960404 140.444197 L 370.201846 152.682591 L 370.437923 179.682258 L 370.679365 183.733422 L 370.920808 152.634074 L 371.16225 145.477828 L 371.398327 184.485434 L 371.639769 181.598677 L 371.881212 152.452135 L 372.122654 143.816123 L 372.358731 181.040732 L 372.600173 181.635065 L 372.841615 158.613785 L 373.077692 154.283649 L 373.319135 180.955828 L 373.560577 181.817003 L 373.802019 153.604412 L 374.038096 142.627458 L 374.279538 184.558209 L 374.520981 184.558209 L 374.762423 134.40384 L 374.9985 147.818769 L 375.239942 184.424788 L 375.481385 184.558209 L 375.717462 144.034449 L 375.958904 145.235243 L 376.200346 183.75768 L 376.441788 181.489514 L 376.677865 141.171951 L 376.919308 139.825606 L 377.16075 182.896505 L 377.402192 184.558209 L 377.638269 142.360615 L 377.879712 148.983175 L 378.121154 184.558209 L 378.362596 184.558209 L 378.598673 138.430745 L 378.840115 146.351132 L 379.081558 184.170074 L 379.317635 183.903231 L 379.559077 147.054628 L 379.800519 152.294455 L 380.041962 184.558209 L 380.278038 184.558209 L 380.519481 129.782603 L 380.760923 141.353889 L 381.002365 184.558209 L 381.238442 184.558209 L 381.479885 146.411778 L 381.721327 144.883495 L 381.957404 184.558209 L 382.198846 184.206462 L 382.440288 146.836302 L 382.681731 147.212308 L 382.917808 183.090572 L 383.15925 181.295446 L 383.400692 150.523588 L 383.642135 152.355102 L 383.878212 184.558209 L 384.119654 184.558209 L 384.361096 156.127292 L 384.602538 154.780948 L 384.838615 184.558209 L 385.080058 184.558209 L 385.3215 158.759335 L 385.557577 162.689206 L 385.799019 183.866843 L 386.040462 184.558209 L 386.281904 164.217489 L 386.517981 166.509914 L 386.759423 179.852068 L 387.000865 184.558209 L 387.242308 161.500542 L 387.478385 163.283538 L 387.719827 184.558209 L 387.961269 184.558209 L 388.197346 167.104246 L 388.438788 169.09344 L 388.680231 184.558209 L 388.921673 184.558209 L 389.15775 168.377815 L 389.399192 168.074585 L 389.640635 184.558209 L 389.882077 184.558209 L 390.118154 168.195877 L 390.359596 171.082634 L 390.601038 184.558209 L 390.842481 182.714566 L 391.078558 161.597575 L 391.32 164.120455 L 391.561442 184.558209 L 391.797519 184.558209 L 392.038962 168.280782 L 392.280404 168.013938 L 392.521846 184.558209 L 392.757923 184.558209 L 392.999365 169.614997 L 393.240808 165.503188 L 393.48225 184.07304 L 393.718327 183.078443 L 393.959769 163.817225 L 394.201212 164.799692 L 394.442654 183.854714 L 394.678731 182.884375 L 394.920173 160.251231 L 395.161615 162.507268 L 395.397692 182.447723 L 395.639135 184.558209 L 395.880577 156.127292 L 396.122019 157.000597 L 396.358096 184.558209 L 396.599538 184.436917 L 397.082423 133.797378 L 397.3185 183.345286 L 397.559942 182.544757 L 397.801385 140.723169 L 398.037462 149.589637 L 398.278904 183.042055 L 398.520346 181.356092 L 398.761788 146.581588 L 398.997865 149.759446 L 399.239308 184.473305 L 399.48075 182.726695 L 399.722192 152.888788 L 399.958269 139.680055 L 400.199712 182.350689 L 400.441154 184.558209 L 400.682596 149.152985 L 400.918673 151.045145 L 401.160115 184.558209 L 401.401558 181.307575 L 401.637635 154.793077 L 401.879077 155.945354 L 402.120519 184.558209 L 402.361962 184.558209 L 402.598038 157.000597 L 402.839481 161.718868 L 403.080923 184.558209 L 403.322365 184.558209 L 403.558442 150.984498 L 404.041327 180.507046 L 404.277404 182.156622 L 404.518846 166.133908 L 404.760288 162.240425 L 405.001731 183.393803 L 405.237808 182.205138 L 405.47925 158.52888 L 405.720692 154.392812 L 405.962135 184.558209 L 406.198212 183.005668 L 406.439654 158.383329 L 406.681096 151.736511 L 406.922538 184.558209 L 407.158615 184.327754 L 407.400058 158.419717 L 407.6415 158.043711 L 407.877577 184.558209 L 408.119019 184.558209 L 408.360462 154.90224 L 408.601904 157.655575 L 408.837981 184.558209 L 409.079423 184.558209 L 409.320865 161.767385 L 409.562308 158.237778 L 409.798385 184.558209 L 410.039827 184.558209 L 410.281269 164.714788 L 410.517346 157.934548 L 410.758788 184.558209 L 411.000231 184.558209 L 411.241673 165.430412 L 411.47775 168.850855 L 411.719192 184.558209 L 411.960635 184.558209 L 412.202077 168.996406 L 412.438154 173.387188 L 412.679596 182.532628 L 412.921038 184.558209 L 413.162481 168.026068 L 413.398558 170.488302 L 413.64 184.558209 L 413.881442 184.558209 L 414.117519 166.522043 L 414.358962 168.960018 L 414.600404 184.558209 L 414.841846 184.558209 L 415.077923 173.217378 L 415.319365 169.384542 L 415.560808 184.558209 L 415.80225 184.558209 L 416.038327 166.788886 L 416.279769 168.341428 L 416.521212 183.648517 L 416.762654 182.277914 L 416.998731 166.813145 L 417.240173 165.806418 L 417.481615 183.296769 L 417.717692 184.558209 L 417.959135 165.62448 L 418.200577 166.643335 L 418.442019 181.064991 L 418.678096 184.303495 L 418.919538 162.834757 L 419.160981 167.261926 L 419.402423 180.91944 L 419.6385 182.702437 L 419.879942 163.841483 L 420.121385 155.411668 L 420.357462 181.319705 L 420.598904 184.558209 L 420.840346 163.950646 L 421.081788 156.758012 L 421.317865 184.473305 L 421.559308 183.551483 L 421.80075 158.201391 L 422.042192 145.344406 L 422.278269 184.558209 L 422.519712 183.624258 L 423.002596 155.739157 L 423.238673 181.39248 L 423.480115 181.889778 L 423.721558 147.515538 L 423.957635 148.874012 L 424.199077 177.620289 L 424.440519 178.954505 L 424.681962 156.806529 L 424.918038 161.512671 L 425.159481 179.536708 L 425.400923 179.075797 L 425.642365 151.43328 L 425.878442 151.712252 L 426.119885 180.094652 L 426.361327 180.118911 L 426.597404 148.813366 L 426.838846 147.430634 L 427.080288 181.841262 L 427.321731 176.892535 L 427.557808 146.630105 L 427.79925 142.639588 L 428.040692 180.009748 L 428.282135 176.455883 L 428.518212 142.312098 L 429.001096 177.814357 L 429.242538 183.333157 L 429.478615 152.22168 L 429.720058 154.332166 L 429.9615 184.449046 L 430.197577 184.558209 L 430.439019 137.702991 L 430.680462 150.01416 L 430.921904 175.861551 L 431.157981 174.393914 L 431.399423 145.926609 L 431.640865 141.438794 L 431.882308 177.729452 L 432.118385 174.090683 L 432.359827 143.961674 L 432.601269 146.557329 L 432.837346 174.175588 L 433.078788 175.145926 L 433.320231 143.3916 L 433.561673 139.485988 L 433.79775 173.82384 L 434.039192 173.969391 L 434.280635 151.979095 L 434.522077 148.134129 L 434.758154 172.428978 L 434.999596 176.237557 L 435.482481 135.459083 L 435.718558 177.050215 L 435.96 174.915471 L 436.201442 137.945575 L 436.437519 152.791754 L 436.678962 175.437028 L 436.920404 177.802228 L 437.161846 134.791975 L 437.397923 139.219145 L 437.639365 176.480142 L 437.880808 176.492271 L 438.12225 146.423908 L 438.358327 147.673218 L 438.599769 173.338671 L 438.841212 172.040843 L 439.318731 145.878092 L 439.560173 170.730886 L 439.801615 172.5624 L 440.037692 146.436037 L 440.279135 141.49944 L 440.520577 171.422252 L 440.762019 172.853502 L 440.998096 138.527778 L 441.239538 125.755698 L 441.480981 175.158055 L 441.722423 174.527335 L 441.9585 148.679945 L 442.199942 153.446732 L 442.441385 171.228185 L 442.677462 173.532738 L 442.918904 144.895625 L 443.160346 149.116597 L 443.401788 177.122991 L 443.637865 176.164782 L 443.879308 155.05992 L 444.12075 145.7568 L 444.362192 175.509803 L 444.598269 176.176911 L 444.839712 146.666492 L 445.081154 133.227305 L 445.322596 172.295557 L 445.558673 172.659434 L 445.800115 142.700234 L 446.041558 148.59504 L 446.277635 173.82384 L 446.519077 174.393914 L 446.760519 134.694942 L 447.001962 139.558763 L 447.238038 174.660757 L 447.479481 176.128394 L 447.720923 137.24208 L 447.962365 144.070837 L 448.198442 175.206572 L 448.439885 173.278025 L 448.681327 137.217822 L 448.917404 137.933446 L 449.158846 178.651274 L 449.400288 180.883052 L 449.641731 148.255422 L 449.877808 147.745994 L 450.11925 184.558209 L 450.360692 177.474738 L 450.602135 145.768929 L 450.838212 131.177465 L 451.079654 174.988246 L 451.321096 176.370978 L 451.562538 145.016917 L 451.798615 134.828363 L 452.040058 175.255089 L 452.2815 175.109538 L 452.517577 137.909188 L 452.759019 145.271631 L 453.000462 173.617643 L 453.241904 175.885809 L 453.477981 149.941385 L 453.719423 148.425231 L 453.960865 184.558209 L 454.202308 177.511126 L 454.438385 145.611249 L 454.679827 149.553249 L 454.921269 176.067748 L 455.157346 176.710597 L 455.398788 129.115495 L 455.640231 146.011514 L 455.881673 173.435705 L 456.11775 172.889889 L 456.359192 140.577618 L 456.600635 151.542443 L 456.842077 176.480142 L 457.078154 177.935649 L 457.319596 147.636831 L 457.561038 144.665169 L 457.802481 173.520609 L 458.038558 175.631095 L 458.28 140.55336 L 458.521442 147.030369 L 458.757519 177.935649 L 458.998962 174.551594 L 459.240404 133.9308 L 459.481846 124.324449 L 459.717923 182.775212 L 459.959365 181.998942 L 460.200808 143.816123 L 460.44225 153.228406 L 460.678327 181.343963 L 460.919769 182.095975 L 461.161212 156.842917 L 461.402654 159.050437 L 461.638731 178.141846 L 461.880173 178.469335 L 462.121615 156.127292 L 462.357692 147.151662 L 462.599135 180.846665 L 462.840577 181.319705 L 463.082019 150.814689 L 463.318096 148.9104 L 463.559538 181.028603 L 463.800981 182.326431 L 464.042423 147.285083 L 464.2785 159.499218 L 464.519942 184.145815 L 464.761385 184.558209 L 464.997462 159.511348 L 465.238904 151.785028 L 465.480346 182.835858 L 465.721788 182.605403 L 465.957865 158.286295 L 466.199308 153.361828 L 466.44075 184.558209 L 466.682192 183.114831 L 466.918269 153.519508 L 467.159712 157.146148 L 467.401154 184.558209 L 467.642596 182.835858 L 467.878673 156.600332 L 468.120115 151.869932 L 468.361558 183.866843 L 468.597635 184.182203 L 468.839077 154.441329 L 469.080519 144.689428 L 469.321962 183.296769 L 469.558038 183.842585 L 469.799481 138.066868 L 470.040923 146.132806 L 470.282365 182.047458 L 470.518442 178.360172 L 470.759885 134.707071 L 471.001327 127.902572 L 471.237404 181.877649 L 471.478846 184.558209 L 471.720288 112.80168 L 471.961731 125.937637 L 472.197808 184.558209 L 472.43925 184.558209 L 472.680692 131.116818 L 472.922135 135.568246 L 473.158212 180.992215 L 473.399654 180.713243 L 473.641096 128.363483 L 473.882538 119.448498 L 474.118615 181.70784 L 474.360058 182.823729 L 474.6015 126.459194 L 474.837577 128.023865 L 475.079019 181.829132 L 475.320462 179.100055 L 475.561904 122.044154 L 475.797981 135.628892 L 476.039423 181.695711 L 476.280865 180.13104 L 476.522308 122.965975 L 476.758385 123.36624 L 476.999827 178.881729 L 477.241269 179.100055 L 477.477346 127.017138 L 477.718788 123.899926 L 477.960231 178.905988 L 478.201673 178.748308 L 478.43775 128.982074 L 478.679192 134.052092 L 478.920635 178.39656 L 479.162077 177.207895 L 479.398154 131.905218 L 479.639596 135.446954 L 479.881038 177.147249 L 480.122481 180.798148 L 480.358558 99.362492 L 480.6 128.957815 L 480.841442 181.501643 L 481.077519 179.197089 L 481.318962 132.645102 L 481.560404 126.823071 L 481.801846 178.627015 L 482.037923 177.025957 L 482.279365 126.083188 L 482.520808 128.193674 L 482.76225 176.334591 L 482.998327 178.020554 L 483.239769 128.460517 L 483.481212 125.282658 L 483.722654 176.649951 L 483.958731 182.302172 L 484.200173 126.713908 L 484.441615 127.866185 L 484.677692 181.986812 L 484.919135 184.54608 L 485.160577 122.650615 L 485.402019 130.013058 L 485.638096 183.951748 L 485.879538 180.907311 L 486.120981 128.351354 L 486.362423 138.97656 L 486.5985 180.713243 L 486.839942 180.422142 L 487.081385 129.661311 L 487.317462 133.591182 L 487.558904 182.193009 L 487.800346 180.385754 L 488.041788 122.711262 L 488.277865 121.304271 L 488.519308 180.883052 L 488.76075 174.951858 L 489.002192 103.195329 L 489.238269 127.975348 L 489.479712 177.559643 L 489.721154 176.856148 L 489.962596 127.817668 L 490.198673 127.769151 L 490.440115 175.206572 L 490.681558 178.821083 L 490.917635 125.513114 L 491.159077 122.092671 L 491.400519 177.826486 L 491.641962 181.162025 L 491.878038 115.373077 L 492.119481 129.297434 L 492.360923 176.97744 L 492.602365 177.207895 L 492.838442 134.87688 L 493.079885 128.302837 L 493.321327 177.814357 L 493.557404 179.779292 L 493.798846 131.189594 L 494.040288 111.928375 L 494.281731 181.732098 L 494.517808 181.271188 L 494.75925 125.197754 L 495.000692 127.017138 L 495.242135 184.109428 L 495.478212 182.059588 L 495.719654 125.719311 L 495.961096 124.385095 L 496.202538 180.519175 L 496.438615 182.253655 L 496.680058 128.266449 L 496.9215 130.910622 L 497.157577 178.517852 L 497.399019 181.513772 L 497.640462 116.610258 L 497.881904 113.844794 L 498.117981 181.829132 L 498.359423 180.713243 L 498.600865 126.956492 L 498.842308 116.889231 L 499.078385 176.941052 L 499.319827 176.649951 L 499.561269 101.278911 L 499.797346 119.242302 L 500.038788 182.168751 L 500.280231 181.39248 L 500.521673 125.331175 L 500.75775 127.211206 L 500.999192 182.374948 L 501.240635 179.075797 L 501.482077 123.354111 L 501.718154 113.553692 L 501.959596 181.331834 L 502.201038 180.810277 L 502.442481 107.986375 L 502.678558 106.700677 L 502.92 176.589305 L 503.161442 175.922197 L 503.397519 117.022652 L 503.638962 112.498449 L 503.880404 174.721403 L 504.121846 184.558209 L 504.357923 105.657563 L 504.599365 107.489077 L 504.840808 172.950535 L 505.08225 172.453237 L 505.318327 105.524142 L 505.559769 96.002695 L 505.801212 170.852178 L 506.042654 166.740369 L 506.278731 112.146702 L 506.520173 101.970277 L 506.761615 169.530092 L 506.997692 170.330622 L 507.239135 99.483785 L 507.480577 105.051102 L 507.722019 165.78216 L 507.958096 166.085391 L 508.199538 99.095649 L 508.440981 95.287071 L 508.682423 168.183748 L 508.9185 167.298314 L 509.159942 106.409575 L 509.401385 105.972923 L 509.637462 166.995083 L 509.878904 165.187828 L 510.120346 96.378702 L 510.361788 94.753385 L 510.597865 166.158166 L 510.839308 170.633852 L 511.08075 90.035114 L 511.322192 91.624043 L 511.558269 169.25112 L 511.799712 169.72416 L 512.041154 77.760332 L 512.282596 78.136338 L 512.518673 167.977551 L 512.760115 178.226751 L 513.001558 89.404394 L 513.237635 91.04184 L 513.479077 169.323895 L 513.720519 167.164892 L 513.961962 104.723612 L 514.198038 94.498671 L 514.439481 170.621723 L 514.680923 172.028714 L 514.922365 86.663188 L 515.158442 84.807415 L 515.399885 170.900695 L 515.641327 175.40064 L 515.877404 93.673883 L 516.118846 86.396345 L 516.360288 175.267218 L 516.601731 175.279348 L 516.837808 74.400535 L 517.07925 86.820868 L 517.320692 171.640578 L 517.562135 173.872357 L 517.798212 93.746658 L 518.039654 83.194228 L 518.281096 174.527335 L 518.522538 174.951858 L 518.758615 92.436702 L 519.000058 77.63904 L 519.2415 172.647305 L 519.477577 172.174265 L 519.719019 80.938191 L 519.960462 72.484117 L 520.201904 176.492271 L 520.437981 177.60816 L 520.679423 94.66848 L 520.920865 89.295231 L 521.162308 173.908745 L 521.398385 170.51256 L 521.639827 80.695606 L 521.881269 72.423471 L 522.117346 172.392591 L 522.358788 175.267218 L 522.600231 81.229292 L 522.841673 89.052646 L 523.07775 172.962665 L 523.319192 177.45048 L 523.560635 73.794074 L 523.802077 71.513778 L 524.038154 173.144603 L 524.279596 173.811711 L 524.521038 77.469231 L 524.762481 67.826492 L 524.998558 174.624369 L 525.24 176.140523 L 525.481442 38.400978 L 525.717519 65.34 L 525.958962 174.551594 L 526.200404 173.908745 L 526.441846 79.046031 L 526.677923 73.527231 L 526.919365 174.357526 L 527.160808 171.640578 L 527.40225 66.892542 L 527.638327 61.968074 L 527.879769 170.124425 L 528.121212 174.563723 L 528.362654 65.000382 L 528.598731 65.279354 L 528.840173 176.480142 L 529.081615 177.001698 L 529.317692 68.166111 L 529.559135 69.476068 L 529.800577 174.794178 L 530.042019 172.016585 L 530.278096 64.612246 L 530.519538 66.807637 L 530.760981 173.083957 L 531.002423 172.162135 L 531.2385 46.563951 L 531.479942 72.653926 L 531.721385 172.08936 L 531.957462 175.061022 L 532.198904 64.600117 L 532.440346 63.872363 L 532.681788 174.29688 L 532.917865 172.295557 L 533.159308 67.850751 L 533.40075 62.65944 L 533.642192 171.434382 L 533.878269 170.500431 L 534.119712 80.671348 L 534.361154 53.950652 L 534.602596 170.973471 L 534.838673 172.756468 L 535.080115 73.187612 L 535.321558 71.513778 L 535.557635 173.726806 L 535.799077 170.876437 L 536.040519 80.028498 L 536.281962 42.718985 L 536.518038 170.621723 L 536.759481 167.0436 L 537.000923 77.141742 L 537.242365 68.578505 L 537.478442 170.621723 L 537.719885 171.276702 L 537.961327 71.356098 L 538.197404 72.217274 L 538.438846 169.275378 L 538.680288 169.857582 L 538.921731 79.130935 L 539.157808 60.912831 L 539.39925 173.156732 L 539.640692 169.748418 L 539.882135 70.846671 L 540.118212 59.044929 L 540.359654 170.864308 L 540.601096 171.919551 L 540.842538 74.279243 L 541.078615 74.133692 L 541.320058 175.315735 L 541.5615 176.455883 L 541.797577 78.791317 L 542.039019 75.11616 L 542.280462 170.803662 L 542.521904 170.937083 L 542.757981 85.886917 L 542.999423 94.777643 L 543.240865 173.387188 L 543.482308 172.210652 L 543.718385 94.256086 L 543.959827 97.082197 L 544.201269 169.032794 L 544.437346 166.764628 L 544.678788 112.389286 L 544.920231 91.757465 L 545.161673 168.159489 L 545.39775 169.56648 L 545.639192 109.927052 L 545.880635 109.4904 L 546.122077 172.962665 L 546.358154 180.203815 L 546.599596 101.909631 L 546.841038 104.044375 L 547.082481 173.98152 L 547.318558 175.55832 L 547.56 103.65624 L 547.801442 103.995858 L 548.037519 175.825163 L 548.278962 179.548837 L 548.520404 100.393477 L 548.761846 102.528222 L 548.997923 170.912825 L 549.239365 170.524689 L 549.480808 109.999828 L 549.72225 108.277477 L 549.958327 171.567803 L 550.199769 174.988246 L 550.441212 111.115717 L 550.682654 103.692628 L 550.918731 172.356203 L 551.160173 178.566369 L 551.401615 108.350252 L 551.637692 109.441883 L 551.879135 171.640578 L 552.120577 173.241637 L 552.362019 98.501317 L 552.598096 80.63496 L 552.839538 170.779403 L 553.080981 172.465366 L 553.322423 103.619852 L 553.5585 107.476948 L 553.799942 173.011182 L 554.041385 170.694498 L 554.277462 110.90952 L 554.518904 112.158831 L 554.760346 168.960018 L 555.001788 172.283428 L 555.237865 107.549723 L 555.479308 112.922972 L 555.72075 172.24704 L 555.962192 170.136554 L 556.198269 110.666935 L 556.439712 108.714129 L 556.681154 169.238991 L 556.922596 171.883163 L 557.158673 108.338123 L 557.400115 104.117151 L 557.641558 170.706628 L 557.877635 173.896615 L 558.119077 109.793631 L 558.360519 104.347606 L 558.601962 177.2928 L 558.838038 174.660757 L 559.079481 105.269428 L 559.320923 107.949988 L 559.562365 175.048892 L 559.798442 175.485545 L 560.039885 110.460738 L 560.281327 117.908086 L 560.517404 175.594708 L 560.758846 176.079877 L 561.000288 110.460738 L 561.241731 99.968954 L 561.477808 175.897938 L 561.71925 175.679612 L 561.960692 110.448609 L 562.202135 115.785471 L 562.438212 175.461286 L 562.679654 178.808954 L 562.921096 107.331397 L 563.162538 106.094215 L 563.398615 178.481465 L 563.640058 176.055618 L 563.8815 112.401415 L 564.117577 113.650726 L 564.359019 173.011182 L 564.600462 178.699791 L 564.841904 118.199188 L 565.077981 118.332609 L 565.319423 174.042166 L 565.560865 174.866954 L 565.802308 113.553692 L 566.038385 113.4324 L 566.279827 175.461286 L 566.521269 178.311655 L 566.757346 107.367785 L 566.998788 108.083409 L 567.240231 178.129717 L 567.481673 175.679612 L 567.71775 123.099397 L 567.959192 104.214185 L 568.200635 170.148683 L 568.442077 173.98152 L 568.678154 118.696486 L 568.919596 116.622388 L 569.161038 174.260492 L 569.402481 172.659434 L 569.638558 102.71016 L 569.88 119.472757 L 570.121442 173.544868 L 570.357519 171.749742 L 570.598962 112.207348 L 570.840404 105.512012 L 571.081846 177.110862 L 571.317923 173.520609 L 571.559365 108.180443 L 571.800808 108.592837 L 572.04225 172.986923 L 572.278327 173.411446 L 572.519769 111.006554 L 572.761212 77.760332 L 573.002654 175.024634 L 573.238731 170.051649 L 573.480173 110.011957 L 573.721615 108.325994 L 573.957692 173.66616 L 574.199135 172.198523 L 574.440577 114.69384 L 574.682019 109.696597 L 574.918096 169.639255 L 575.159538 170.35488 L 575.400981 102.855711 L 575.642423 108.993102 L 575.8785 169.772677 L 576.119942 172.707951 L 576.361385 109.696597 L 576.597462 108.180443 L 576.838904 173.884486 L 577.080346 168.923631 L 577.321788 105.487754 L 577.557865 103.959471 L 577.799308 170.743015 L 578.04075 171.325218 L 578.282192 103.522818 L 578.518269 113.844794 L 578.759712 171.288831 L 579.001154 171.349477 L 579.242596 100.805871 L 579.478673 87.839723 L 579.720115 172.198523 L 579.961558 169.893969 L 580.197635 101.958148 L 580.439077 102.819323 L 580.680519 166.558431 L 580.921962 170.730886 L 581.158038 107.416302 L 581.399481 111.515982 L 581.640923 168.93576 L 581.882365 171.046246 L 582.118442 116.646646 L 582.359885 104.565932 L 582.601327 172.101489 L 582.837404 172.234911 L 583.078846 97.057938 L 583.320288 102.443317 L 583.561731 169.869711 L 583.797808 169.469446 L 584.03925 111.758566 L 584.280692 112.825938 L 584.522135 168.899372 L 584.758212 164.096197 L 584.999654 110.193895 L 585.241096 102.746548 L 585.482538 164.957372 L 585.718615 169.336025 L 585.960058 99.592948 L 586.2015 95.105132 L 586.437577 169.457317 L 586.679019 171.094763 L 586.920462 105.900148 L 587.161904 97.967631 L 587.397981 168.656788 L 587.639423 169.602868 L 587.880865 100.757354 L 588.122308 90.241311 L 588.358385 170.391268 L 588.599827 168.705305 L 588.841269 73.199742 L 589.077346 72.326437 L 589.318788 170.003132 L 589.560231 167.880517 L 589.801673 56.158172 L 590.03775 76.632314 L 590.279192 168.474849 L 590.520635 165.806418 L 590.762077 82.599895 L 590.998154 86.529766 L 591.239596 165.745772 L 591.481038 164.654142 L 591.722481 87.57288 L 591.958558 79.858689 L 592.2 165.503188 L 592.441442 167.249797 L 592.677519 100.138763 L 592.918962 104.262702 L 593.160404 166.267329 L 593.401846 164.981631 L 593.637923 118.308351 L 593.879365 107.658886 L 594.120808 167.128505 L 594.36225 167.650062 L 594.598327 112.401415 L 594.839769 108.823292 L 595.081212 170.075908 L 595.322654 166.606948 L 595.558731 112.874455 L 595.800173 115.833988 L 596.041615 171.155409 L 596.277692 168.681046 L 596.519135 124.567034 L 596.760577 126.810942 L 597.002019 171.567803 L 597.238096 167.710708 L 597.479538 120.879748 L 597.720981 115.385206 L 597.962423 169.833323 L 598.1985 170.112295 L 598.439942 134.161255 L 598.681385 119.654695 L 598.917462 174.648628 L 599.158904 171.604191 L 599.400346 129.916025 L 599.641788 126.859458 L 599.877865 170.342751 L 600.119308 171.737612 L 600.36075 130.849975 L 600.602192 127.15056 L 600.838269 170.476172 L 601.079712 175.667483 L 601.321154 137.933446 L 601.562596 124.651938 L 601.798673 174.490948 L 602.040115 172.307686 L 602.281558 132.354 L 602.517635 135.82296 L 602.759077 169.845452 L 603.000519 173.229508 L 603.478038 122.153317 L 603.719481 170.924954 L 603.960923 174.430302 L 604.202365 137.848542 L 604.438442 135.774443 L 604.679885 173.011182 L 604.921327 171.846775 L 605.157404 145.138209 L 605.398846 141.329631 L 605.640288 175.728129 L 605.881731 174.503077 L 606.117808 145.793188 L 606.35925 148.316068 L 606.600692 174.030037 L 606.600692 174.030037 " clip-path="url(#pb94ecb44f5)" style="fill: none; stroke: #bfbf00; stroke-opacity: 0.5; stroke-width: 1.5; stroke-linecap: square"/>
   </g>
   <g id="line2d_40">
    <path d="M 90.359481 171.058375 L 90.600923 179.827809 L 91.078442 170.682369 L 91.319885 176.589305 L 91.797404 166.279458 L 92.038846 176.5044 L 92.280288 174.988246 L 92.521731 168.535495 L 92.757808 167.031471 L 92.99925 175.061022 L 93.240692 174.1392 L 93.482135 168.826597 L 93.718212 172.344074 L 93.959654 177.644548 L 94.201096 175.412769 L 94.442538 169.4088 L 94.678615 174.29688 L 94.920058 167.20128 L 95.1615 164.04768 L 95.397577 171.689095 L 95.639019 163.040954 L 95.880462 174.551594 L 96.121904 166.218812 L 96.357981 174.830566 L 96.599423 174.442431 L 97.082308 159.208117 L 97.318385 170.172942 L 97.559827 158.298425 L 97.801269 174.1392 L 98.037346 176.734855 L 98.278788 165.321249 L 98.520231 170.088037 L 98.761673 159.753932 L 98.99775 171.519286 L 99.239192 162.15552 L 99.480635 166.934437 L 99.722077 157.231052 L 99.958154 163.950646 L 100.199596 151.760769 L 100.441038 170.172942 L 100.682481 150.232486 L 100.918558 155.144825 L 101.16 167.844129 L 101.401442 164.266006 L 101.637519 144.774332 L 101.878962 160.687883 L 102.120404 147.467022 L 102.597923 168.30504 L 102.839365 150.972369 L 103.080808 168.450591 L 103.32225 161.476283 L 103.558327 149.213631 L 103.799769 168.426332 L 104.041212 139.60728 L 104.282654 139.534505 L 104.518731 153.070726 L 104.760173 140.650394 L 105.001615 159.462831 L 105.237692 146.290486 L 105.479135 159.826708 L 105.720577 157.849643 L 105.962019 138.564166 L 106.198096 142.870043 L 106.439538 158.868498 L 106.680981 162.664948 L 106.922423 144.822849 L 107.1585 145.223114 L 107.399942 157.837514 L 107.641385 159.838837 L 107.877462 145.101822 L 108.118904 142.372745 L 108.360346 157.352345 L 108.601788 138.394357 L 108.837865 161.536929 L 109.079308 144.33768 L 109.32075 155.096308 L 109.562192 157.776868 L 110.039712 129.309563 L 110.281154 159.644769 L 110.522596 144.02232 L 110.758673 162.228295 L 111.000115 170.51256 L 111.241558 141.984609 L 111.477635 158.419717 L 111.719077 139.934769 L 111.960519 155.557218 L 112.201962 136.975237 L 112.438038 138.612683 L 112.679481 160.602978 L 112.920923 163.987034 L 113.162365 137.096529 L 113.398442 129.794732 L 113.639885 152.937305 L 113.881327 150.596363 L 114.117404 132.426775 L 114.358846 125.598018 L 114.600288 153.883385 L 114.841731 147.867286 L 115.077808 159.571994 L 115.31925 158.3712 L 115.560692 137.132917 L 115.802135 136.647748 L 116.038212 155.084178 L 116.279654 138.382228 L 116.521096 157.061243 L 116.762538 160.360394 L 116.998615 147.588314 L 117.240058 144.568135 L 117.4815 165.005889 L 117.717577 133.433502 L 117.959019 151.712252 L 118.200462 132.766394 L 118.441904 159.511348 L 118.677981 163.538252 L 118.919423 143.852511 L 119.160865 152.270197 L 119.402308 139.000818 L 119.638385 144.604523 L 119.879827 155.508702 L 120.121269 153.01008 L 120.357346 142.6032 L 120.598788 152.573428 L 120.840231 137.751508 L 121.081673 132.924074 L 121.31775 152.682591 L 121.559192 134.743458 L 121.800635 155.605735 L 122.042077 144.277034 L 122.278154 167.504511 L 122.519596 160.857692 L 122.761038 144.750074 L 123.002481 158.892757 L 123.238558 139.304049 L 123.48 160.032905 L 123.721442 136.029157 L 123.957519 157.667705 L 124.198962 138.50352 L 124.440404 158.189262 L 124.681846 141.596474 L 124.917923 141.669249 L 125.159365 155.557218 L 125.400808 136.829686 L 125.64225 166.849532 L 125.878327 164.726917 L 126.119769 137.836412 L 126.361212 135.301403 L 126.602654 153.301182 L 126.838731 128.533292 L 127.321615 159.875225 L 127.557692 141.414535 L 127.799135 152.658332 L 128.040577 129.418726 L 128.282019 132.911945 L 128.759538 166.206683 L 129.000981 133.579052 L 129.242423 130.571003 L 129.4785 156.563945 L 129.719942 157.497895 L 129.961385 126.592615 L 130.197462 127.490178 L 130.438904 169.372412 L 130.680346 139.207015 L 130.921788 158.019452 L 131.157865 163.586769 L 131.399308 144.107225 L 131.64075 154.417071 L 131.882192 134.998172 L 132.118269 138.18816 L 132.359712 158.152874 L 132.601154 138.588425 L 132.842596 173.071828 L 133.078673 171.846775 L 133.320115 133.506277 L 133.561558 141.463052 L 133.797635 158.504622 L 134.039077 153.434603 L 134.280519 164.084068 L 134.521962 159.960129 L 134.758038 147.915803 L 134.999481 150.074806 L 135.240923 164.241748 L 135.718442 145.271631 L 135.959885 146.035772 L 136.201327 157.473637 L 136.437404 146.023643 L 136.678846 169.712031 L 136.920288 166.182425 L 137.161731 150.305262 L 137.397808 158.601655 L 137.63925 142.13016 L 137.880692 142.979206 L 138.122135 160.129938 L 138.358212 156.115163 L 138.599654 142.178677 L 138.841096 151.979095 L 139.082538 139.740702 L 139.318615 158.067969 L 139.560058 143.925286 L 139.8015 140.589748 L 140.037577 154.380683 L 140.279019 155.435926 L 140.520462 142.882172 L 140.761904 161.99784 L 140.997981 144.871366 L 141.239423 157.485766 L 141.480865 141.875446 L 141.722308 142.797268 L 141.958385 153.48312 L 142.199827 156.333489 L 142.441269 142.227194 L 142.677346 140.322905 L 142.918788 160.093551 L 143.160231 137.011625 L 143.401673 157.291698 L 143.63775 136.853945 L 143.879192 150.826818 L 144.120635 146.108548 L 144.362077 159.644769 L 144.598154 157.643446 L 144.839596 144.49536 L 145.081038 154.659655 L 145.322481 137.921317 L 145.558558 160.396782 L 146.041442 128.788006 L 146.277519 146.060031 L 146.518962 131.153206 L 146.760404 154.526234 L 147.001846 148.316068 L 147.237923 137.278468 L 147.479365 147.96432 L 147.720808 126.786683 L 147.96225 131.517083 L 148.198327 151.178566 L 148.439769 154.926498 L 148.681212 130.158609 L 148.922654 152.039742 L 149.158731 131.711151 L 149.400173 133.057495 L 149.641615 154.174486 L 149.877692 126.386418 L 150.119135 144.713686 L 150.360577 154.538363 L 150.602019 128.157286 L 150.838096 150.547846 L 151.079538 122.808295 L 151.320981 130.243514 L 151.562423 147.3336 L 151.7985 140.771686 L 152.039942 126.968622 L 152.281385 133.1424 L 152.517462 149.553249 L 152.758904 153.6408 L 153.000346 129.188271 L 153.241788 126.641132 L 153.477865 154.27152 L 153.719308 152.100388 L 153.96075 137.678732 L 154.202192 140.71104 L 154.438269 155.605735 L 154.679712 136.223225 L 154.921154 153.107114 L 155.162596 136.550714 L 155.398673 158.249908 L 155.640115 153.458862 L 155.881558 137.605957 L 156.117635 134.573649 L 156.359077 155.617865 L 156.600519 140.371422 L 156.841962 161.427766 L 157.078038 139.267662 L 157.319481 157.182535 L 157.560923 153.919772 L 157.802365 139.752831 L 158.038442 144.750074 L 158.279885 156.054517 L 158.521327 145.429311 L 158.757404 160.566591 L 158.998846 155.108437 L 159.240288 133.809508 L 159.481731 137.545311 L 159.717808 151.506055 L 159.95925 137.508923 L 160.200692 149.917126 L 160.442135 155.084178 L 160.678212 134.294677 L 160.919654 136.235354 L 161.161096 150.632751 L 161.402538 149.601766 L 161.638615 138.940172 L 161.880058 152.900917 L 162.1215 133.215175 L 162.357577 134.87688 L 162.599019 156.236455 L 162.840462 135.725926 L 163.081904 151.530314 L 163.317981 154.914369 L 163.559423 136.077674 L 163.800865 138.224548 L 164.042308 154.865852 L 164.278385 136.902462 L 164.519827 152.245938 L 164.761269 138.236677 L 164.997346 160.700012 L 165.238788 163.598898 L 165.480231 133.882283 L 165.721673 141.281114 L 165.95775 157.146148 L 166.199192 160.930468 L 166.440635 136.999495 L 166.682077 139.388954 L 166.918154 154.392812 L 167.159596 138.697588 L 167.401038 153.240535 L 167.642481 151.154308 L 167.878558 134.986043 L 168.12 127.963218 L 168.361442 153.422474 L 168.597519 161.427766 L 168.838962 132.475292 L 169.080404 129.430855 L 169.321846 159.171729 L 169.557923 152.755366 L 169.799365 134.270418 L 170.040808 153.774222 L 170.28225 133.554794 L 170.518327 137.011625 L 170.759769 154.611138 L 171.001212 131.213852 L 171.242654 152.573428 L 171.478731 136.659877 L 171.720173 160.845563 L 171.961615 130.267772 L 172.197692 159.984388 L 172.439135 158.443975 L 172.680577 129.406597 L 172.922019 141.535828 L 173.158096 161.439895 L 173.399538 156.891434 L 173.640981 135.592505 L 173.882423 156.806529 L 174.1185 133.494148 L 174.359942 151.130049 L 174.601385 118.211317 L 174.837462 133.45776 L 175.078904 157.134018 L 175.320346 138.115385 L 175.561788 159.608382 L 175.797865 127.6236 L 176.039308 156.127292 L 176.28075 129.928154 L 176.522192 161.5248 L 176.758269 156.442652 L 176.999712 123.026622 L 177.241154 134.901138 L 177.482596 161.99784 L 177.718673 132.936203 L 177.960115 169.226862 L 178.201558 167.237668 L 178.437635 122.468677 L 178.679077 169.578609 L 178.920519 131.310886 L 179.161962 127.841926 L 179.398038 155.702769 L 179.639481 159.135342 L 179.880923 120.637163 L 180.122365 121.643889 L 180.358442 149.250018 L 180.599885 126.010412 L 180.841327 147.260825 L 181.077404 150.681268 L 181.318846 124.688326 L 181.560288 171.288831 L 181.801731 124.421483 L 182.037808 148.679945 L 182.27925 124.651938 L 182.520692 127.186948 L 182.762135 144.580265 L 182.998212 146.144935 L 183.239654 124.275932 L 183.481096 128.618197 L 183.722538 156.16368 L 183.958615 123.875668 L 184.200058 149.759446 L 184.4415 117.556338 L 184.677577 149.322794 L 184.919019 151.736511 L 185.160462 127.975348 L 185.401904 125.343305 L 185.637981 146.86056 L 185.879423 146.084289 L 186.120865 119.205914 L 186.362308 122.189705 L 186.598385 143.294566 L 186.839827 131.662634 L 187.081269 164.557108 L 187.317346 161.36712 L 187.558788 145.7568 L 187.800231 143.415858 L 188.041673 163.1016 L 188.27775 156.006 L 188.519192 140.650394 L 188.760635 140.383551 L 189.002077 159.208117 L 189.238154 146.921206 L 189.479596 161.888677 L 189.721038 155.047791 L 189.962481 143.306695 L 190.198558 160.57872 L 190.44 140.201612 L 190.681442 143.512892 L 190.917519 160.530203 L 191.158962 160.226972 L 191.400404 140.286517 L 191.641846 154.053194 L 191.877923 143.282437 L 192.119365 159.026178 L 192.360808 144.398326 L 192.60225 144.058708 L 192.838327 157.10976 L 193.079769 141.911834 L 193.562654 159.074695 L 193.798731 141.887575 L 194.040173 158.359071 L 194.281615 144.871366 L 194.517692 147.382117 L 194.759135 129.782603 L 195.000577 137.618086 L 195.242019 159.948 L 195.478096 134.864751 L 195.719538 166.667594 L 195.960981 135.265015 L 196.202423 155.642123 L 196.4385 157.073372 L 196.679942 142.942818 L 196.921385 144.410455 L 197.157462 166.982954 L 197.398904 136.441551 L 197.640346 155.011403 L 197.881788 128.606068 L 198.117865 141.147692 L 198.359308 132.887686 L 198.60075 164.168972 L 198.842192 169.88184 L 199.078269 144.592394 L 199.319712 144.264905 L 199.561154 167.104246 L 199.802596 163.89 L 200.038673 144.471102 L 200.280115 163.865742 L 200.521558 136.720523 L 200.757635 134.925397 L 200.999077 156.539686 L 201.240519 156.491169 L 201.481962 137.800025 L 201.718038 155.193342 L 201.959481 135.871477 L 202.200923 132.208449 L 202.442365 151.857803 L 202.678442 140.153095 L 202.919885 161.148794 L 203.161327 159.438572 L 203.397404 137.981963 L 203.638846 150.669138 L 203.880288 134.294677 L 204.121731 129.030591 L 204.357808 150.996628 L 204.59925 134.064222 L 204.840692 163.392702 L 205.082135 173.50848 L 205.318212 137.302726 L 205.559654 130.037317 L 205.801096 156.442652 L 206.042538 159.1596 L 206.278615 138.697588 L 206.520058 139.243403 L 206.7615 160.869822 L 206.997577 135.713797 L 207.239019 158.698689 L 207.480462 124.385095 L 207.721904 154.926498 L 207.957981 159.183858 L 208.199423 139.29192 L 208.440865 140.432068 L 208.682308 157.752609 L 208.918385 135.265015 L 209.159827 151.287729 L 209.401269 146.605846 L 209.637346 173.156732 L 210.120231 145.392923 L 210.361673 144.519618 L 210.59775 162.361717 L 210.839192 157.691963 L 211.080635 147.80664 L 211.322077 155.193342 L 211.558154 141.923963 L 212.041038 156.588203 L 212.282481 157.000597 L 212.518558 143.270308 L 212.76 151.190695 L 213.001442 136.490068 L 213.237519 136.659877 L 213.478962 155.508702 L 213.720404 139.716443 L 213.961846 158.52888 L 214.197923 162.022098 L 214.439365 151.772898 L 214.680808 158.795723 L 214.92225 145.696154 L 215.158327 142.215065 L 215.641212 160.239102 L 215.882654 146.617975 L 216.118731 159.535606 L 216.360173 147.006111 L 216.601615 154.077452 L 216.837692 135.798702 L 217.079135 150.220357 L 217.320577 141.305372 L 217.562019 143.318825 L 217.798096 161.464154 L 218.039538 147.673218 L 218.280981 162.094874 L 218.522423 162.483009 L 218.7585 152.245938 L 218.999942 147.127403 L 219.241385 160.457428 L 219.477462 163.077342 L 219.718904 146.047902 L 219.960346 161.233698 L 220.201788 145.878092 L 220.437865 140.844462 L 220.679308 153.519508 L 220.92075 148.522265 L 221.162192 161.270086 L 221.398269 161.294345 L 221.639712 140.565489 L 221.881154 161.670351 L 222.122596 146.132806 L 222.358673 150.086935 L 222.600115 159.499218 L 222.841558 144.252775 L 223.077635 156.006 L 223.319077 141.305372 L 223.560519 157.74048 L 223.801962 161.076018 L 224.038038 142.433391 L 224.279481 166.425009 L 224.520923 146.812043 L 224.762365 161.027502 L 224.998442 142.724492 L 225.239885 166.898049 L 225.481327 141.887575 L 225.717404 139.097852 L 225.958846 158.274166 L 226.200288 142.979206 L 226.441731 160.797046 L 226.677808 143.07624 L 226.91925 154.74456 L 227.160692 132.03864 L 227.402135 156.382006 L 227.638212 160.760658 L 227.879654 134.331065 L 228.121096 135.240757 L 228.362538 148.073483 L 228.598615 153.131372 L 228.840058 132.681489 L 229.0815 136.963108 L 229.317577 152.294455 L 229.559019 148.898271 L 229.800462 133.045366 L 230.041904 155.096308 L 230.277981 132.087157 L 230.519423 126.641132 L 230.760865 143.634185 L 231.002308 131.116818 L 231.238385 149.880738 L 231.479827 152.888788 L 231.721269 130.922751 L 231.957346 123.596695 L 232.198788 150.196098 L 232.440231 135.835089 L 232.681673 155.751286 L 232.91775 155.654252 L 233.159192 129.164012 L 233.400635 123.463274 L 233.642077 148.498006 L 233.878154 145.950868 L 234.119596 124.542775 L 234.361038 148.570782 L 234.602481 133.579052 L 234.838558 130.510357 L 235.08 149.917126 L 235.321442 150.256745 L 235.557519 132.936203 L 235.798962 128.351354 L 236.040404 144.434714 L 236.281846 143.646314 L 236.517923 120.612905 L 236.759365 126.629003 L 237.000808 149.468345 L 237.24225 126.689649 L 237.478327 143.828252 L 237.719769 140.274388 L 237.961212 152.706849 L 238.202654 149.565378 L 238.438731 129.637052 L 238.680173 127.15056 L 238.921615 148.655686 L 239.157692 151.869932 L 239.399135 135.313532 L 239.640577 133.955058 L 239.882019 150.814689 L 240.118096 130.413323 L 240.359538 143.294566 L 240.600981 131.820314 L 240.842423 148.679945 L 241.0785 147.042498 L 241.319942 132.378258 L 241.561385 136.186837 L 241.797462 155.629994 L 242.038904 159.996517 L 242.280346 129.35808 L 242.521788 129.079108 L 242.757865 144.592394 L 242.999308 135.277145 L 243.24075 154.465588 L 243.482192 154.853723 L 243.718269 124.251674 L 243.959712 126.713908 L 244.442596 158.480363 L 244.678673 141.535828 L 244.920115 157.255311 L 245.161558 121.983508 L 245.397635 128.72736 L 245.639077 156.042388 L 245.880519 131.662634 L 246.358038 148.898271 L 246.599481 135.689538 L 246.840923 131.662634 L 247.082365 145.029046 L 247.318442 135.919994 L 247.559885 154.465588 L 247.801327 133.1424 L 248.037404 153.228406 L 248.520288 123.451145 L 248.761731 135.289274 L 248.997808 159.547735 L 249.480692 129.916025 L 249.722135 148.692074 L 249.958212 136.296 L 250.199654 136.890332 L 250.441096 152.743237 L 250.682538 139.219145 L 250.918615 160.869822 L 251.160058 140.322905 L 251.4015 154.550492 L 251.637577 151.90632 L 252.120462 136.223225 L 252.361904 151.894191 L 252.597981 150.923852 L 252.839423 140.238 L 253.080865 135.944252 L 253.322308 153.531637 L 253.558385 145.113951 L 253.799827 161.136665 L 254.277346 140.383551 L 254.518788 138.455003 L 254.760231 156.103034 L 255.001673 150.220357 L 255.23775 164.20536 L 255.479192 155.508702 L 255.962077 132.390388 L 256.198154 155.739157 L 256.439596 136.114062 L 256.681038 160.663625 L 256.922481 141.087046 L 257.158558 158.225649 L 257.4 155.314634 L 257.641442 132.863428 L 257.877519 173.459963 L 258.118962 149.589637 L 258.360404 159.499218 L 258.601846 137.787895 L 258.837923 135.543988 L 259.079365 154.283649 L 259.320808 144.361938 L 259.56225 160.226972 L 259.798327 140.965754 L 260.039769 165.212086 L 260.281212 163.768708 L 260.522654 145.853834 L 260.758731 138.50352 L 261.000173 161.015372 L 261.241615 144.034449 L 261.477692 160.020775 L 261.719135 162.483009 L 262.202019 139.109982 L 262.438096 170.088037 L 262.679538 150.535717 L 262.920981 164.654142 L 263.162423 161.403508 L 263.3985 141.208338 L 263.639942 154.841594 L 263.881385 141.220468 L 264.117462 142.469778 L 264.358904 160.566591 L 264.600346 141.159822 L 264.841788 161.391378 L 265.077865 157.012726 L 265.319308 143.767606 L 265.56075 158.116486 L 265.802192 132.693618 L 266.038269 145.198855 L 266.279712 166.837403 L 266.521154 166.522043 L 266.762596 137.8728 L 266.998673 165.030148 L 267.240115 151.336246 L 267.481558 163.538252 L 267.717635 142.785138 L 267.959077 145.526345 L 268.200519 155.969612 L 268.441962 156.333489 L 268.678038 143.209662 L 268.919481 148.898271 L 269.160923 164.751175 L 269.402365 164.108326 L 269.638442 147.454892 L 269.879885 152.294455 L 270.121327 165.648738 L 270.357404 151.954837 L 270.598846 162.3132 L 270.840288 164.411557 L 271.081731 152.779625 L 271.317808 149.953514 L 271.55925 161.536929 L 271.800692 164.642012 L 272.042135 152.985822 L 272.278212 163.077342 L 272.519654 150.256745 L 272.761096 159.63264 L 273.002538 145.235243 L 273.238615 159.487089 L 273.480058 143.379471 L 273.7215 160.809175 L 273.957577 144.095095 L 274.199019 134.889009 L 274.440462 148.194775 L 274.681904 147.382117 L 274.917981 162.798369 L 275.159423 137.921317 L 275.400865 156.63672 L 275.642308 141.135563 L 275.878385 154.368554 L 276.119827 157.024855 L 276.361269 141.899705 L 276.597346 165.284862 L 276.838788 144.082966 L 277.080231 145.720412 L 277.55775 167.128505 L 277.799192 136.077674 L 278.040635 171.955938 L 278.282077 138.697588 L 278.518154 135.483342 L 278.759596 162.689206 L 279.001038 165.212086 L 279.242481 142.542554 L 279.478558 155.387409 L 279.72 133.421372 L 279.961442 124.445742 L 280.197519 153.179889 L 280.438962 155.727028 L 280.680404 130.328418 L 280.921846 136.878203 L 281.157923 155.169083 L 281.399365 134.525132 L 281.640808 160.348265 L 281.88225 158.067969 L 282.118327 144.313422 L 282.359769 138.285194 L 282.601212 157.546412 L 282.842654 127.841926 L 283.078731 150.123323 L 283.320173 134.197643 L 283.561615 154.732431 L 283.797692 141.899705 L 284.039135 161.148794 L 284.280577 136.684135 L 284.522019 161.20944 L 284.758096 146.157065 L 284.999538 158.031582 L 285.240981 163.635286 L 285.482423 144.980529 L 285.7185 162.046357 L 285.959942 142.542554 L 286.201385 144.786462 L 286.437462 162.191908 L 286.678904 157.255311 L 286.920346 143.694831 L 287.161788 162.737723 L 287.397865 140.298646 L 287.639308 135.543988 L 287.88075 159.1596 L 288.122192 154.890111 L 288.358269 167.795612 L 288.599712 164.04768 L 289.082596 141.050658 L 289.318673 165.830677 L 289.560115 169.336025 L 289.801558 150.32952 L 290.037635 164.447945 L 290.279077 152.803883 L 290.520519 151.409022 L 290.761962 166.182425 L 291.239481 142.251452 L 291.480923 149.468345 L 291.722365 164.751175 L 291.958442 161.828031 L 292.199885 145.198855 L 292.441327 148.073483 L 292.677404 169.991003 L 292.918846 169.275378 L 293.160288 149.795834 L 293.401731 162.301071 L 293.637808 146.266228 L 293.87925 148.861883 L 294.120692 162.107003 L 294.362135 151.190695 L 294.598212 160.202714 L 294.839654 163.41696 L 295.081096 144.907754 L 295.322538 150.062677 L 295.800058 171.45864 L 296.0415 153.859126 L 296.277577 169.190474 L 296.519019 145.429311 L 296.760462 155.448055 L 297.001904 172.186394 L 297.237981 161.633963 L 297.479423 145.489957 L 297.720865 152.53704 L 297.962308 168.402074 L 298.198385 149.262148 L 298.439827 165.054406 L 298.681269 166.158166 L 298.917346 143.646314 L 299.158788 159.814578 L 299.400231 147.260825 L 299.641673 160.154197 L 299.87775 140.516972 L 300.119192 145.538474 L 300.360635 155.156954 L 300.602077 139.510246 L 300.838154 160.797046 L 301.079596 156.660978 L 301.321038 139.146369 L 301.562481 153.386086 L 301.798558 140.007545 L 302.04 157.5828 L 302.281442 141.681378 L 302.517519 152.440006 L 302.758962 138.200289 L 303.000404 160.469557 L 303.477923 138.467132 L 303.960808 162.143391 L 304.20225 143.027723 L 304.438327 139.716443 L 304.679769 154.295778 L 304.921212 158.407588 L 305.162654 142.845785 L 305.398731 158.468234 L 305.640173 142.809397 L 305.881615 157.085502 L 306.117692 137.254209 L 306.359135 137.035883 L 306.600577 158.019452 L 306.842019 126.629003 L 307.078096 154.477717 L 307.319538 163.162246 L 307.802423 137.945575 L 308.0385 156.212197 L 308.279942 156.454782 L 308.521385 136.61136 L 308.757462 145.368665 L 308.998904 128.666714 L 309.240346 152.621945 L 309.481788 135.386308 L 309.717865 141.644991 L 309.959308 151.008757 L 310.20075 132.438905 L 310.442192 156.673108 L 310.678269 161.500542 L 310.919712 135.66528 L 311.161154 150.64488 L 311.402596 131.080431 L 311.638673 132.366129 L 311.880115 150.535717 L 312.121558 152.015483 L 312.357635 126.071058 L 312.599077 129.83112 L 312.840519 150.438683 L 313.081962 148.340326 L 313.318038 135.180111 L 313.559481 153.822738 L 314.042365 126.289385 L 314.278442 155.666382 L 314.519885 150.062677 L 314.761327 132.693618 L 314.997404 150.32952 L 315.238846 126.374289 L 315.480288 126.653262 L 315.721731 147.248695 L 315.957808 143.343083 L 316.19925 161.658222 L 316.440692 162.859015 L 316.682135 152.706849 L 316.918212 166.88592 L 317.159654 145.890222 L 317.401096 150.256745 L 317.642538 130.46184 L 317.878615 135.847218 L 318.3615 168.438462 L 318.597577 125.270529 L 318.839019 126.095317 L 319.080462 157.89816 L 319.321904 142.882172 L 319.557981 157.813255 L 319.799423 134.901138 L 320.040865 152.706849 L 320.282308 141.511569 L 320.518385 162.580043 L 320.759827 140.929366 L 321.001269 156.588203 L 321.237346 142.979206 L 321.478788 162.495138 L 321.720231 169.25112 L 321.961673 148.158388 L 322.19775 138.649071 L 322.439192 151.542443 L 322.680635 135.519729 L 322.922077 161.233698 L 323.158154 138.903785 L 323.399596 155.37528 L 323.641038 159.050437 L 323.882481 142.663846 L 324.118558 137.448277 L 324.36 167.189151 L 324.601442 160.469557 L 324.837519 145.489957 L 325.078962 142.639588 L 325.320404 152.282326 L 325.561846 139.231274 L 325.797923 168.256523 L 326.039365 143.488634 L 326.280808 162.276812 L 326.52225 160.324006 L 326.758327 140.698911 L 326.999769 140.153095 L 327.241212 157.716222 L 327.482654 165.78216 L 327.718731 137.775766 L 327.960173 145.295889 L 328.201615 163.538252 L 328.437692 147.661089 L 328.679135 161.815902 L 328.920577 162.725594 L 329.162019 145.405052 L 329.398096 159.438572 L 329.639538 147.394246 L 329.880981 143.064111 L 330.122423 158.395458 L 330.3585 166.194554 L 330.599942 148.27968 L 330.841385 145.865963 L 331.077462 161.937194 L 331.318904 147.224437 L 331.560346 163.453348 L 331.801788 147.248695 L 332.037865 162.822628 L 332.279308 162.082745 L 332.52075 144.410455 L 332.998269 166.752498 L 333.239712 159.00192 L 333.481154 168.14736 L 333.722596 150.669138 L 333.958673 165.139311 L 334.200115 162.434492 L 334.441558 149.371311 L 334.677635 149.274277 L 334.919077 171.640578 L 335.160519 169.712031 L 335.401962 156.297102 L 335.638038 158.601655 L 335.879481 147.891545 L 336.120923 150.705526 L 336.362365 166.910178 L 336.598442 152.415748 L 337.081327 169.639255 L 337.317404 152.245938 L 337.558846 152.100388 L 337.800288 168.135231 L 338.041731 167.395348 L 338.277808 145.235243 L 338.51925 150.353778 L 338.760692 162.725594 L 339.002135 167.601545 L 339.238212 153.822738 L 339.479654 165.672997 L 339.721096 144.398326 L 340.198615 169.651385 L 340.440058 168.850855 L 340.6815 145.562732 L 340.917577 167.880517 L 341.159019 156.818658 L 341.400462 161.160923 L 341.641904 146.326874 L 341.877981 156.224326 L 342.119423 172.307686 L 342.360865 158.650172 L 342.602308 172.974794 L 342.838385 153.034338 L 343.079827 163.586769 L 343.321269 156.842917 L 343.557346 165.296991 L 343.798788 151.033015 L 344.281673 171.009858 L 344.51775 157.728351 L 344.759192 169.4088 L 345.000635 153.931902 L 345.242077 153.022209 L 345.478154 165.903452 L 345.719596 154.186615 L 345.961038 171.434382 L 346.202481 170.900695 L 346.438558 155.193342 L 346.68 168.705305 L 346.921442 155.545089 L 347.157519 154.635397 L 347.398962 169.675643 L 347.640404 172.477495 L 347.881846 153.859126 L 348.117923 155.144825 L 348.359365 169.809065 L 348.600808 149.807963 L 348.84225 170.900695 L 349.078327 152.173163 L 349.319769 162.434492 L 349.561212 155.120566 L 349.802654 170.730886 L 350.038731 168.850855 L 350.280173 151.700123 L 350.521615 171.216055 L 350.757692 160.26336 L 350.999135 155.096308 L 351.240577 173.775323 L 351.482019 167.407477 L 351.718096 155.326763 L 351.959538 148.837625 L 352.200981 161.888677 L 352.442423 163.429089 L 352.6785 150.972369 L 352.919942 163.598898 L 353.161385 154.041065 L 353.397462 151.797157 L 353.638904 169.809065 L 353.880346 154.890111 L 354.121788 168.474849 L 354.357865 156.042388 L 354.599308 174.951858 L 354.84075 170.209329 L 355.082192 158.007323 L 355.318269 156.612462 L 355.559712 166.230942 L 355.801154 159.111083 L 356.042596 172.259169 L 356.278673 172.756468 L 356.520115 150.475071 L 356.761558 171.822517 L 356.997635 154.041065 L 357.239077 152.161034 L 357.480519 162.349588 L 357.721962 167.225538 L 357.958038 155.496572 L 358.199481 164.714788 L 358.440923 155.023532 L 358.682365 152.937305 L 358.918442 162.216166 L 359.159885 148.194775 L 359.401327 161.646092 L 359.637404 167.759225 L 359.878846 153.628671 L 360.120288 163.41696 L 360.361731 153.834868 L 360.597808 162.240425 L 360.83925 148.085612 L 361.080692 152.573428 L 361.322135 162.761982 L 361.558212 156.32136 L 361.799654 164.642012 L 362.041096 161.063889 L 362.282538 172.647305 L 362.518615 172.974794 L 362.760058 153.495249 L 363.0015 152.051871 L 363.237577 163.016695 L 363.479019 162.956049 L 363.720462 175.364252 L 363.961904 173.059698 L 364.197981 160.784917 L 364.439423 171.191797 L 364.680865 159.365797 L 364.922308 156.673108 L 365.158385 172.732209 L 365.399827 157.182535 L 365.641269 174.321138 L 365.877346 179.985489 L 366.118788 158.104357 L 366.360231 159.00192 L 366.601673 172.792855 L 366.83775 161.391378 L 367.079192 170.439785 L 367.320635 156.260714 L 367.562077 173.229508 L 367.798154 170.027391 L 368.039596 159.244505 L 368.281038 157.546412 L 368.522481 177.620289 L 368.758558 178.71192 L 369 153.143502 L 369.241442 175.461286 L 369.477519 151.396892 L 369.718962 174.951858 L 369.960404 159.535606 L 370.201846 172.865631 L 370.437923 155.072049 L 370.679365 159.086825 L 370.920808 174.030037 L 371.16225 170.088037 L 371.398327 154.307908 L 371.639769 173.969391 L 371.881212 157.570671 L 372.122654 158.225649 L 372.358731 170.427655 L 372.600173 161.718868 L 372.841615 169.590738 L 373.077692 159.220246 L 373.319135 167.407477 L 373.560577 161.112406 L 373.802019 174.745662 L 374.038096 175.109538 L 374.279538 164.290265 L 374.520981 172.24704 L 374.762423 165.212086 L 374.9985 167.868388 L 375.239942 162.677077 L 375.481385 160.712142 L 375.717462 169.56648 L 375.958904 170.415526 L 376.200346 163.283538 L 376.441788 159.972258 L 376.677865 169.56648 L 376.919308 170.35488 L 377.16075 159.644769 L 377.402192 158.237778 L 377.638269 166.073262 L 377.879712 167.334702 L 378.121154 158.298425 L 378.362596 154.501975 L 378.598673 163.368443 L 378.840115 153.034338 L 379.081558 168.098843 L 379.559077 150.596363 L 379.800519 153.252665 L 380.041962 163.368443 L 380.278038 163.319926 L 380.519481 144.277034 L 380.760923 142.324228 L 381.002365 159.062566 L 381.238442 151.506055 L 381.479885 167.941163 L 381.721327 149.54112 L 381.957404 162.968178 L 382.198846 160.505945 L 382.440288 147.794511 L 382.681731 149.577508 L 382.917808 170.35488 L 383.15925 166.922308 L 383.400692 151.481797 L 383.642135 153.313311 L 383.878212 163.865742 L 384.119654 157.085502 L 384.361096 169.117698 L 384.602538 165.806418 L 384.838615 155.787674 L 385.080058 159.717545 L 385.3215 170.876437 L 385.557577 172.671563 L 385.799019 163.647415 L 386.040462 168.523366 L 386.281904 165.175698 L 386.517981 167.468123 L 386.759423 171.883163 L 387.000865 171.191797 L 387.242308 168.414203 L 387.478385 171.009858 L 387.719827 167.152763 L 387.961269 168.062455 L 388.197346 174.175588 L 388.438788 170.051649 L 388.680231 176.528658 L 388.921673 169.336025 L 389.15775 175.728129 L 389.399192 169.032794 L 389.640635 174.539465 L 389.882077 175.776646 L 390.118154 169.154086 L 390.359596 172.052972 L 390.601038 178.360172 L 391.078558 168.741692 L 391.32 169.226862 L 391.561442 173.496351 L 391.797519 174.187717 L 392.038962 169.238991 L 392.280404 169.784806 L 392.521846 177.038086 L 392.757923 171.495028 L 392.999365 176.310332 L 393.240808 169.663514 L 393.48225 176.007102 L 393.718327 178.372302 L 393.959769 169.627126 L 394.201212 170.282105 L 394.442654 178.360172 L 394.678731 169.88184 L 394.920173 181.926166 L 395.161615 177.790098 L 395.397692 168.30504 L 395.639135 175.352123 L 395.880577 163.792966 L 396.122019 171.761871 L 396.358096 159.741803 L 396.599538 172.174265 L 396.840981 154.368554 L 397.082423 162.373846 L 397.3185 153.094985 L 397.559942 154.186615 L 397.801385 163.708062 L 398.037462 156.515428 L 398.278904 170.488302 L 398.520346 165.891323 L 398.761788 173.593385 L 398.997865 172.465366 L 399.239308 153.313311 L 399.48075 154.562622 L 399.722192 167.698578 L 399.958269 154.647526 L 400.199712 168.6204 L 400.441154 173.66616 L 400.682596 158.601655 L 400.918673 157.594929 L 401.160115 173.253766 L 401.401558 174.527335 L 401.637635 167.771354 L 401.879077 165.248474 L 402.120519 174.260492 L 402.361962 168.656788 L 402.598038 178.55424 L 402.839481 178.141846 L 403.080923 169.687772 L 403.322365 176.577175 L 403.558442 167.625803 L 403.799885 170.027391 L 404.041327 178.129717 L 404.277404 177.426222 L 404.518846 167.092117 L 404.760288 163.198634 L 405.001731 170.209329 L 405.237808 167.625803 L 405.47925 181.246929 L 405.720692 164.484332 L 405.962135 178.821083 L 406.198212 176.407366 L 406.439654 164.411557 L 406.681096 161.20944 L 406.922538 167.953292 L 407.158615 162.058486 L 407.6415 178.190363 L 407.877577 162.276812 L 408.119019 172.817114 L 408.360462 160.166326 L 408.601904 158.953403 L 408.837981 171.046246 L 409.079423 162.725594 L 409.320865 174.017908 L 409.562308 172.853502 L 409.798385 164.096197 L 410.039827 165.685126 L 410.281269 174.951858 L 410.517346 158.892757 L 410.758788 176.201169 L 411.000231 175.461286 L 411.241673 166.388622 L 411.47775 169.809065 L 411.719192 180.555563 L 411.960635 180.846665 L 412.202077 174.102812 L 412.438154 174.345397 L 412.679596 181.574418 L 412.921038 171.895292 L 413.162481 181.356092 L 413.398558 183.454449 L 413.64 175.910068 L 413.881442 181.040732 L 414.117519 174.466689 L 414.358962 172.72008 L 414.600404 181.040732 L 414.841846 174.175588 L 415.077923 180.737502 L 415.319365 178.930246 L 415.560808 173.180991 L 415.80225 171.907422 L 416.038327 178.481465 L 416.279769 172.453237 L 416.521212 177.680935 L 416.762654 174.369655 L 416.998731 181.319705 L 417.240173 170.548948 L 417.481615 179.706517 L 417.717692 178.857471 L 417.959135 171.579932 L 418.200577 180.106782 L 418.442019 173.338671 L 418.678096 172.065102 L 418.919538 183.345286 L 419.160981 172.853502 L 419.402423 179.912714 L 419.6385 167.795612 L 419.879942 177.147249 L 420.121385 168.086714 L 420.357462 175.922197 L 420.598904 168.026068 L 420.840346 182.265785 L 421.081788 179.112185 L 421.317865 167.067858 L 421.559308 163.647415 L 421.80075 179.257735 L 422.042192 183.454449 L 422.278269 167.164892 L 422.519712 168.668917 L 422.761154 182.666049 L 423.002596 179.391157 L 423.238673 167.395348 L 423.480115 180.931569 L 423.721558 168.790209 L 423.957635 165.648738 L 424.199077 175.679612 L 424.440519 168.086714 L 424.681962 175.934326 L 424.918038 173.144603 L 425.159481 162.47088 L 425.400923 174.309009 L 425.642365 159.741803 L 425.878442 165.854935 L 426.119885 157.061243 L 426.361327 153.495249 L 426.597404 165.515317 L 426.838846 170.124425 L 427.080288 160.966855 L 427.321731 170.003132 L 427.557808 158.019452 L 427.79925 174.842695 L 428.040692 162.131262 L 428.282135 173.641902 L 428.518212 163.271409 L 428.759654 159.850966 L 429.001096 168.972148 L 429.242538 170.743015 L 429.478615 159.656898 L 429.720058 168.77808 L 429.9615 155.290375 L 430.197577 150.002031 L 430.439019 162.434492 L 430.680462 167.929034 L 430.921904 150.972369 L 431.157981 149.116597 L 431.399423 169.481575 L 431.640865 167.104246 L 431.882308 149.844351 L 432.118385 144.919883 L 432.359827 158.747206 L 432.601269 161.694609 L 432.837346 151.687994 L 433.078788 155.387409 L 433.320231 169.736289 L 433.561673 156.697366 L 433.79775 169.784806 L 434.039192 173.011182 L 434.280635 155.120566 L 434.522077 149.104468 L 434.758154 166.788886 L 434.999596 155.181212 L 435.241038 165.818548 L 435.482481 170.791532 L 435.718558 159.268763 L 435.96 164.387298 L 436.201442 153.228406 L 436.437519 155.047791 L 436.678962 168.256523 L 436.920404 167.67432 L 437.161846 151.336246 L 437.397923 166.582689 L 437.639365 150.305262 L 437.880808 167.128505 L 438.12225 147.394246 L 438.358327 151.384763 L 438.599769 166.643335 L 438.841212 168.826597 L 439.082654 155.836191 L 439.318731 161.160923 L 439.560173 151.020886 L 439.801615 164.266006 L 440.279135 146.423908 L 440.520577 168.523366 L 440.762019 171.895292 L 440.998096 156.782271 L 441.239538 170.852178 L 441.480981 155.205471 L 441.722423 149.977772 L 441.9585 167.055729 L 442.199942 156.369877 L 442.441385 166.752498 L 442.677462 163.538252 L 442.918904 152.900917 L 443.160346 163.332055 L 443.401788 151.821415 L 443.637865 156.333489 L 443.879308 169.748418 L 444.12075 167.662191 L 444.362192 146.715009 L 444.598269 164.872468 L 444.839712 149.880738 L 445.081154 162.883274 L 445.322596 149.322794 L 445.558673 146.593717 L 446.041558 172.865631 L 446.277635 158.249908 L 446.519077 163.283538 L 446.760519 152.476394 L 447.001962 150.826818 L 447.238038 168.426332 L 447.479481 172.40472 L 447.720923 151.166437 L 447.962365 145.029046 L 448.198442 167.710708 L 448.439885 150.208228 L 448.681327 170.136554 L 448.917404 171.106892 L 449.158846 154.198745 L 449.400288 150.657009 L 449.641731 165.806418 L 449.877808 155.435926 L 450.11925 173.180991 L 450.360692 172.24704 L 450.602135 157.788997 L 450.838212 166.509914 L 451.079654 152.900917 L 451.321096 152.900917 L 451.562538 167.395348 L 451.798615 169.141957 L 452.040058 151.942708 L 452.2815 164.726917 L 452.517577 150.657009 L 452.759019 154.683914 L 453.000462 167.492382 L 453.241904 169.166215 L 453.477981 150.911723 L 453.719423 153.32544 L 453.960865 173.872357 L 454.202308 154.380683 L 454.438385 176.552917 L 454.679827 174.891212 L 454.921269 155.799803 L 455.157346 152.561298 L 455.640231 167.237668 L 455.881673 146.969723 L 456.11775 141.535828 L 456.359192 164.460074 L 456.600635 167.334702 L 456.842077 152.512782 L 457.078154 158.601655 L 457.319596 173.763194 L 457.561038 171.288831 L 457.802481 147.260825 L 458.038558 154.368554 L 458.28 168.814468 L 458.521442 158.601655 L 458.757519 171.592062 L 458.998962 167.407477 L 459.240404 149.019563 L 459.481846 172.829243 L 459.959365 144.786462 L 460.200808 176.807631 L 460.44225 154.186615 L 460.678327 169.88184 L 460.919769 169.712031 L 461.161212 157.801126 L 461.402654 160.008646 L 461.638731 176.34672 L 461.880173 157.097631 L 462.121615 173.435705 L 462.357692 167.031471 L 462.599135 151.360505 L 462.840577 151.772898 L 463.082019 170.415526 L 463.318096 163.25928 L 463.559538 173.241637 L 463.800981 162.119132 L 464.042423 175.970714 L 464.2785 174.151329 L 464.519942 160.457428 L 464.761385 160.469557 L 464.997462 174.951858 L 465.238904 180.349366 L 465.480346 171.191797 L 465.721788 172.08936 L 465.957865 159.256634 L 466.199308 154.320037 L 466.44075 166.801015 L 466.682192 172.550271 L 466.918269 156.551815 L 467.159712 158.116486 L 467.401154 168.584012 L 467.642596 168.984277 L 467.878673 157.570671 L 468.120115 152.828142 L 468.361558 161.148794 L 468.597635 155.399538 L 468.839077 163.113729 L 469.080519 158.310554 L 469.558038 174.163458 L 469.799481 155.2176 L 470.040923 165.018018 L 470.282365 149.444086 L 470.518442 167.832 L 470.759885 151.639477 L 471.001327 161.076018 L 471.237404 144.774332 L 471.478846 157.801126 L 471.720288 137.266338 L 471.961731 155.278246 L 472.197808 137.460406 L 472.43925 141.317502 L 472.680692 162.567914 L 472.922135 138.163902 L 473.158212 164.181102 L 473.399654 165.224215 L 473.641096 142.44552 L 473.882538 160.651495 L 474.118615 143.039852 L 474.360058 134.488745 L 474.6015 164.023422 L 474.837577 156.624591 L 475.079019 135.835089 L 475.320462 141.402406 L 475.561904 159.802449 L 475.797981 157.340215 L 476.039423 141.281114 L 476.280865 141.826929 L 476.522308 157.873902 L 476.758385 155.787674 L 476.999827 133.275822 L 477.241269 137.775766 L 477.477346 152.440006 L 477.718788 159.814578 L 477.960231 141.826929 L 478.201673 158.431846 L 478.43775 139.522375 L 478.679192 156.745883 L 478.920635 136.550714 L 479.162077 135.519729 L 479.398154 164.690529 L 479.639596 159.875225 L 479.881038 136.405163 L 480.122481 143.901028 L 480.358558 159.220246 L 480.6 151.930578 L 480.841442 137.702991 L 481.077519 133.603311 L 481.318962 157.206794 L 481.560404 163.247151 L 481.801846 140.577618 L 482.037923 153.980418 L 482.279365 142.190806 L 482.520808 157.000597 L 482.76225 131.650505 L 482.998327 138.200289 L 483.239769 157.801126 L 483.481212 142.215065 L 483.722654 159.814578 L 483.958731 150.378037 L 484.200173 161.342862 L 484.441615 157.243182 L 484.677692 139.813477 L 484.919135 158.189262 L 485.160577 144.046578 L 485.402019 139.012948 L 485.638096 162.228295 L 485.879538 162.47088 L 486.120981 143.07624 L 486.362423 153.725705 L 486.5985 141.511569 L 486.839942 144.640911 L 487.081385 161.706738 L 487.317462 168.729563 L 487.558904 143.294566 L 487.800346 138.97656 L 488.041788 152.791754 L 488.277865 153.48312 L 488.519308 137.909188 L 489.002192 162.458751 L 489.238269 145.926609 L 489.479712 166.109649 L 489.721154 162.034228 L 489.962596 133.081754 L 490.198673 132.463163 L 490.440115 151.74864 L 490.681558 157.837514 L 490.917635 137.157175 L 491.159077 158.165003 L 491.400519 139.583022 L 491.641962 152.22168 L 491.878038 132.851298 L 492.119481 160.918338 L 492.360923 140.347163 L 492.602365 163.562511 L 492.838442 139.643668 L 493.321327 171.349477 L 493.557404 161.439895 L 493.798846 145.647637 L 494.040288 155.132695 L 494.281731 137.666603 L 494.517808 139.861994 L 494.75925 161.561188 L 495.000692 153.070726 L 495.242135 132.232708 L 495.478212 132.596585 L 495.719654 149.965643 L 495.961096 134.282548 L 496.438615 163.647415 L 496.680058 136.283871 L 496.9215 137.145046 L 497.157577 156.551815 L 497.399019 145.853834 L 497.640462 127.077785 L 498.117981 152.69472 L 498.359423 144.992658 L 498.600865 170.318492 L 498.842308 160.226972 L 499.078385 135.228628 L 499.319827 158.516751 L 499.561269 130.7772 L 499.797346 140.723169 L 500.038788 165.369766 L 500.280231 155.144825 L 500.521673 137.39976 L 500.75775 152.464265 L 500.999192 136.162578 L 501.240635 144.895625 L 501.482077 124.31232 L 501.718154 126.738166 L 501.959596 155.520831 L 502.201038 133.118142 L 502.442481 144.798591 L 502.678558 146.096418 L 502.92 129.188271 L 503.161442 130.522486 L 503.397519 152.573428 L 503.638962 131.953735 L 503.880404 151.736511 L 504.121846 131.699022 L 504.357923 150.935982 L 504.599365 154.671785 L 504.840808 134.015705 L 505.08225 134.355323 L 505.318327 155.120566 L 505.559769 131.286628 L 505.801212 155.484443 L 506.042654 132.184191 L 506.278731 158.589526 L 506.520173 135.604634 L 506.761615 154.041065 L 506.997692 143.888898 L 507.239135 118.805649 L 507.480577 122.019895 L 507.722019 153.252665 L 507.958096 160.408911 L 508.199538 127.393145 L 508.440981 136.405163 L 508.682423 154.441329 L 508.9185 146.969723 L 509.159942 125.319046 L 509.401385 139.522375 L 509.637462 125.234142 L 509.878904 134.707071 L 510.120346 159.305151 L 510.361788 157.801126 L 510.597865 127.174818 L 510.839308 128.800135 L 511.08075 158.674431 L 511.322192 147.80664 L 511.558269 124.324449 L 511.799712 145.635508 L 512.041154 120.236898 L 512.282596 122.359514 L 512.518673 145.150338 L 512.760115 122.492935 L 513.001558 141.099175 L 513.237635 144.386197 L 513.479077 124.045477 L 513.720519 121.219366 L 513.961962 158.152874 L 514.198038 145.574862 L 514.439481 121.607502 L 514.680923 143.282437 L 514.922365 120.722068 L 515.158442 117.143945 L 515.399885 134.682812 L 515.641327 131.09256 L 515.877404 149.286406 L 516.118846 149.043822 L 516.360288 128.860782 L 516.601731 142.712363 L 516.837808 124.348708 L 517.07925 141.644991 L 517.320692 119.011846 L 517.562135 139.000818 L 517.798212 112.437803 L 518.281096 149.286406 L 518.522538 141.887575 L 518.758615 115.603532 L 519.000058 140.990012 L 519.2415 124.445742 L 519.477577 143.07624 L 519.719019 122.335255 L 520.437981 153.034338 L 520.679423 136.902462 L 520.920865 141.293243 L 521.162308 116.258511 L 521.398385 121.922862 L 521.881269 147.515538 L 522.117346 121.837957 L 522.358788 118.878425 L 522.841673 144.216388 L 523.07775 112.425674 L 523.319192 116.209994 L 523.802077 148.498006 L 524.038154 118.187058 L 524.279596 147.454892 L 524.521038 108.507932 L 524.762481 104.493157 L 524.998558 123.984831 L 525.24 92.157729 L 525.481442 134.367452 L 525.717519 139.910511 L 525.958962 101.157618 L 526.200404 103.995858 L 526.441846 129.285305 L 526.677923 133.372855 L 526.919365 109.223557 L 527.160808 133.324338 L 527.40225 101.363815 L 527.638327 101.812597 L 527.879769 129.321692 L 528.121212 143.173274 L 528.362654 118.781391 L 528.598731 115.712695 L 528.840173 142.081643 L 529.081615 138.612683 L 529.317692 114.451255 L 529.559135 128.193674 L 530.042019 85.632203 L 530.278096 138.831009 L 530.519538 144.410455 L 530.760981 118.611582 L 531.002423 106.943262 L 531.479942 152.658332 L 531.721385 87.839723 L 532.440346 139.777089 L 532.681788 118.63584 L 532.917865 115.676308 L 533.159308 135.010302 L 533.40075 140.905108 L 533.642192 105.317945 L 533.878269 107.428431 L 534.119712 140.589748 L 534.361154 108.920326 L 534.602596 140.723169 L 534.838673 139.546634 L 535.080115 103.037649 L 535.321558 94.377378 L 535.557635 125.476726 L 535.799077 130.813588 L 536.281962 84.965095 L 536.518038 127.102043 L 536.759481 141.378148 L 537.000923 107.695274 L 537.478442 133.760991 L 537.719885 117.53208 L 537.961327 130.571003 L 538.197404 132.548068 L 538.438846 115.142622 L 538.680288 107.222234 L 538.921731 133.760991 L 539.157808 117.338012 L 539.39925 136.550714 L 539.640692 129.054849 L 539.882135 101.958148 L 540.118212 112.352898 L 540.359654 142.324228 L 540.601096 109.987698 L 540.842538 143.051982 L 541.078615 142.190806 L 541.320058 112.522708 L 541.5615 113.626468 L 541.797577 138.746105 L 542.039019 139.716443 L 542.280462 128.242191 L 542.521904 109.259945 L 542.757981 136.574972 L 542.999423 113.638597 L 543.240865 131.468566 L 543.482308 139.158498 L 543.718385 117.107557 L 543.959827 138.042609 L 544.201269 116.076572 L 544.437346 117.253108 L 544.920231 143.803994 L 545.161673 120.042831 L 545.39775 110.885262 L 545.639192 139.267662 L 545.880635 138.455003 L 546.358154 113.420271 L 546.599596 131.965865 L 546.841038 126.689649 L 547.082481 105.002585 L 547.318558 122.007766 L 547.56 152.949434 L 547.801442 149.359182 L 548.037519 110.169637 L 548.278962 114.875778 L 548.520404 138.018351 L 548.761846 137.775766 L 548.997923 116.040185 L 549.239365 138.988689 L 549.480808 111.455335 L 549.72225 143.646314 L 549.958327 120.612905 L 550.199769 151.190695 L 550.441212 128.302837 L 550.682654 136.987366 L 550.918731 118.077895 L 551.160173 109.308462 L 551.401615 144.216388 L 551.637692 141.281114 L 551.879135 111.819212 L 552.120577 99.459526 L 552.362019 146.496683 L 552.598096 138.479262 L 552.839538 108.908197 L 553.080981 104.578062 L 553.322423 137.593828 L 553.5585 138.794622 L 553.799942 115.979538 L 554.041385 137.533182 L 554.277462 120.782714 L 554.518904 125.634406 L 554.760346 144.046578 L 555.001788 121.704535 L 555.237865 143.537151 L 555.479308 145.526345 L 555.72075 122.189705 L 555.962192 122.153317 L 556.198269 142.045255 L 556.439712 146.314745 L 556.681154 120.006443 L 556.922596 115.506498 L 557.158673 148.170517 L 557.400115 151.481797 L 557.641558 120.649292 L 557.877635 122.056283 L 558.119077 147.103145 L 558.360519 127.296111 L 558.601962 147.200178 L 558.838038 143.694831 L 559.079481 113.104911 L 559.320923 124.263803 L 559.562365 157.534283 L 559.798442 141.960351 L 560.039885 163.235022 L 560.281327 168.608271 L 560.517404 131.868831 L 560.758846 149.152985 L 561.000288 120.770585 L 561.241731 123.439015 L 561.477808 157.231052 L 561.71925 167.904775 L 561.960692 130.049446 L 562.202135 144.992658 L 562.438212 122.141188 L 562.679654 123.972702 L 562.921096 154.295778 L 563.162538 149.177243 L 563.398615 127.890443 L 563.640058 130.898492 L 563.8815 151.493926 L 564.117577 157.716222 L 564.359019 138.297323 L 564.600462 138.733975 L 564.841904 154.74456 L 565.077981 145.332277 L 565.319423 166.194554 L 565.560865 161.961452 L 566.038385 125.343305 L 566.279827 150.086935 L 566.521269 150.717655 L 566.757346 129.176142 L 566.998788 129.212529 L 567.240231 147.01824 L 567.481673 127.732763 L 567.71775 143.136886 L 567.959192 129.2004 L 568.200635 149.092338 L 568.442077 149.371311 L 568.678154 132.317612 L 568.919596 129.903895 L 569.161038 148.922529 L 569.402481 134.039963 L 569.638558 103.680498 L 570.121442 152.888788 L 570.357519 142.76088 L 570.598962 113.165557 L 570.840404 107.804437 L 571.317923 136.599231 L 571.559365 117.168203 L 571.800808 118.745003 L 572.04225 145.138209 L 572.278327 142.215065 L 572.519769 111.976892 L 572.761212 125.549502 L 573.002654 100.284314 L 573.238731 133.008978 L 573.480173 110.970166 L 573.721615 109.284203 L 573.957692 137.254209 L 574.199135 140.747428 L 574.440577 115.652049 L 574.682019 141.305372 L 574.918096 112.546966 L 575.159538 110.982295 L 575.400981 138.382228 L 575.642423 142.008868 L 575.8785 122.213963 L 576.119942 128.945686 L 576.361385 154.659655 L 576.597462 128.533292 L 576.838904 151.894191 L 577.080346 149.322794 L 577.321788 127.987477 L 577.557865 126.810942 L 577.799308 152.039742 L 578.04075 152.913046 L 578.282192 132.936203 L 578.518269 123.196431 L 578.759712 144.131483 L 579.001154 137.254209 L 579.242596 121.073815 L 579.478673 122.990234 L 579.720115 155.629994 L 579.961558 136.708394 L 580.197635 155.678511 L 580.439077 129.782603 L 580.921962 155.605735 L 581.158038 134.149126 L 581.399481 146.132806 L 581.640923 124.930911 L 581.882365 135.410566 L 582.118442 156.187938 L 582.359885 150.693397 L 582.601327 127.866185 L 582.837404 139.4496 L 583.078846 122.905329 L 583.320288 126.531969 L 583.561731 151.130049 L 583.797808 157.000597 L 584.03925 133.651828 L 584.280692 142.930689 L 584.522135 124.567034 L 584.758212 151.178566 L 584.999654 126.726037 L 585.241096 138.139643 L 585.482538 120.297545 L 585.718615 136.077674 L 585.960058 125.403951 L 586.2015 123.439015 L 586.437577 136.708394 L 586.679019 119.994314 L 586.920462 143.476505 L 587.161904 131.007655 L 587.397981 111.673662 L 587.639423 126.095317 L 587.880865 107.998505 L 588.122308 130.279902 L 588.358385 111.491723 L 588.599827 129.51576 L 588.841269 105.512012 L 589.077346 110.885262 L 589.318788 128.630326 L 589.560231 109.975569 L 589.801673 130.110092 L 590.03775 83.994757 L 590.279192 139.910511 L 590.520635 132.366129 L 590.762077 103.595594 L 590.998154 102.964874 L 591.239596 129.758345 L 591.481038 116.974135 L 591.722481 140.189483 L 591.958558 119.121009 L 592.2 135.895735 L 592.441442 127.138431 L 592.677519 149.565378 L 592.918962 141.317502 L 593.160404 129.054849 L 593.401846 140.808074 L 593.637923 128.800135 L 593.879365 127.005009 L 594.120808 151.154308 L 594.36225 155.266117 L 594.598327 137.424018 L 594.839769 134.646425 L 595.081212 154.999274 L 595.322654 144.131483 L 595.558731 158.286295 L 595.800173 137.909188 L 596.041615 154.768818 L 596.277692 151.651606 L 596.519135 135.119465 L 596.760577 133.324338 L 597.002019 152.403618 L 597.238096 148.813366 L 597.479538 137.132917 L 597.720981 139.085723 L 597.962423 155.933225 L 598.1985 143.755477 L 598.439942 155.569348 L 598.681385 152.124646 L 598.917462 135.82296 L 599.158904 138.539908 L 599.400346 156.770142 L 599.641788 144.956271 L 599.877865 158.116486 L 600.119308 163.247151 L 600.36075 143.985932 L 600.602192 143.464375 L 600.838269 153.422474 L 601.079712 156.879305 L 601.321154 143.961674 L 601.562596 142.409132 L 601.798673 160.505945 L 602.040115 165.248474 L 602.281558 153.252665 L 602.517635 160.57872 L 602.759077 136.781169 L 603.000519 158.407588 L 603.241962 147.151662 L 603.478038 143.415858 L 603.719481 162.749852 L 603.960923 162.240425 L 604.202365 144.143612 L 604.438442 141.438794 L 604.679885 161.124535 L 604.921327 162.349588 L 605.157404 148.861883 L 605.398846 145.611249 L 605.640288 157.619188 L 605.881731 146.763526 L 606.117808 159.656898 L 606.35925 149.274277 L 606.600692 161.318603 L 606.600692 161.318603 " clip-path="url(#pb94ecb44f5)" style="fill: none; stroke: #0000ff; stroke-width: 1.5; stroke-linecap: square"/>
   </g>
   <g id="line2d_41">
    <path d="M 95.712 183.6 L 95.712 25.92 " clip-path="url(#pb94ecb44f5)" style="fill: none; stroke-dasharray: 5.55,2.4; stroke-dashoffset: 0; stroke: #000000; stroke-width: 1.5"/>
   </g>
   <g id="line2d_42">
    <path d="M 224.4 183.6 L 224.4 25.92 " clip-path="url(#pb94ecb44f5)" style="fill: none; stroke-dasharray: 5.55,2.4; stroke-dashoffset: 0; stroke: #000000; stroke-width: 1.5"/>
   </g>
   <g id="line2d_43">
    <path d="M 353.52 183.6 L 353.52 25.92 " clip-path="url(#pb94ecb44f5)" style="fill: none; stroke-dasharray: 5.55,2.4; stroke-dashoffset: 0; stroke: #000000; stroke-width: 1.5"/>
   </g>
   <g id="line2d_44">
    <path d="M 482.16 183.6 L 482.16 25.92 " clip-path="url(#pb94ecb44f5)" style="fill: none; stroke-dasharray: 5.55,2.4; stroke-dashoffset: 0; stroke: #000000; stroke-width: 1.5"/>
   </g>
   <g id="patch_8">
    <path d="M 90 183.6 L 90 25.92 " style="fill: none; stroke: #000000; stroke-width: 0.8; stroke-linejoin: miter; stroke-linecap: square"/>
   </g>
   <g id="patch_9">
    <path d="M 648 183.6 L 648 25.92 " style="fill: none; stroke: #000000; stroke-width: 0.8; stroke-linejoin: miter; stroke-linecap: square"/>
   </g>
   <g id="patch_10">
    <path d="M 90 183.6 L 648 183.6 " style="fill: none; stroke: #000000; stroke-width: 0.8; stroke-linejoin: miter; stroke-linecap: square"/>
   </g>
   <g id="patch_11">
    <path d="M 90 25.92 L 648 25.92 " style="fill: none; stroke: #000000; stroke-width: 0.8; stroke-linejoin: miter; stroke-linecap: square"/>
   </g>
   <g id="text_22">
    <text style="font-size: 10px; font-family: 'DejaVu Sans', 'Bitstream Vera Sans', 'Computer Modern Sans Serif', 'Lucida Grande', 'Verdana', 'Geneva', 'Lucid', 'Arial', 'Helvetica', 'Avant Garde', sans-serif; text-anchor: start; fill: #292929" x="99.744" y="46.054523" transform="rotate(-0 99.744 46.054523)">10/26</text>
   </g>
   <g id="text_23">
    <text style="font-size: 10px; font-family: 'DejaVu Sans', 'Bitstream Vera Sans', 'Computer Modern Sans Serif', 'Lucida Grande', 'Verdana', 'Geneva', 'Lucid', 'Arial', 'Helvetica', 'Avant Garde', sans-serif; text-anchor: start; fill: #292929" x="228.768" y="46.054523" transform="rotate(-0 228.768 46.054523)">10/27</text>
   </g>
   <g id="text_24">
    <text style="font-size: 10px; font-family: 'DejaVu Sans', 'Bitstream Vera Sans', 'Computer Modern Sans Serif', 'Lucida Grande', 'Verdana', 'Geneva', 'Lucid', 'Arial', 'Helvetica', 'Avant Garde', sans-serif; text-anchor: start; fill: #292929" x="357.504" y="46.054523" transform="rotate(-0 357.504 46.054523)">10/28</text>
   </g>
   <g id="text_25">
    <text style="font-size: 10px; font-family: 'DejaVu Sans', 'Bitstream Vera Sans', 'Computer Modern Sans Serif', 'Lucida Grande', 'Verdana', 'Geneva', 'Lucid', 'Arial', 'Helvetica', 'Avant Garde', sans-serif; text-anchor: start; fill: #292929" x="486.48" y="46.054523" transform="rotate(-0 486.48 46.054523)">10/29</text>
   </g>
   <g id="legend_1">
    <g id="patch_12">
     <path d="M 92.336 22.944 L 426.932875 22.944 Q 428.932875 22.944 428.932875 20.944 L 428.932875 7.265875 Q 428.932875 5.265875 426.932875 5.265875 L 92.336 5.265875 Q 90.336 5.265875 90.336 7.265875 L 90.336 20.944 Q 90.336 22.944 92.336 22.944 z
" style="fill: #ffffff; opacity: 0.8; stroke: #cccccc; stroke-linejoin: miter"/>
    </g>
    <g id="line2d_45">
     <path d="M 94.336 13.364312 L 104.336 13.364312 L 114.336 13.364312 " style="fill: none; stroke: #bfbf00; stroke-opacity: 0.5; stroke-width: 1.5; stroke-linecap: square"/>
    </g>
    <g id="text_26">
     <text style="font-size: 10px; font-family: 'DejaVu Sans', 'Bitstream Vera Sans', 'Computer Modern Sans Serif', 'Lucida Grande', 'Verdana', 'Geneva', 'Lucid', 'Arial', 'Helvetica', 'Avant Garde', sans-serif; text-anchor: start" x="122.336" y="16.864312" transform="rotate(-0 122.336 16.864312)">10m Wind Speed (5s)</text>
    </g>
    <g id="line2d_46">
     <path d="M 250.189125 13.364312 L 260.189125 13.364312 L 270.189125 13.364312 " style="fill: none; stroke: #0000ff; stroke-width: 1.5; stroke-linecap: square"/>
    </g>
    <g id="text_27">
     <text style="font-size: 10px; font-family: 'DejaVu Sans', 'Bitstream Vera Sans', 'Computer Modern Sans Serif', 'Lucida Grande', 'Verdana', 'Geneva', 'Lucid', 'Arial', 'Helvetica', 'Avant Garde', sans-serif; text-anchor: start" x="278.189125" y="16.864312" transform="rotate(-0 278.189125 16.864312)">2-minute Avg</text>
    </g>
    <g id="patch_13">
     <path d="M 365.125063 16.864312 L 385.125063 16.864312 L 385.125063 9.864312 L 365.125063 9.864312 z
" style="fill: #808080; fill-opacity: 0.2; stroke-opacity: 0.2; stroke: #808080; stroke-linejoin: miter"/>
    </g>
    <g id="text_28">
     <text style="font-size: 10px; font-family: 'DejaVu Sans', 'Bitstream Vera Sans', 'Computer Modern Sans Serif', 'Lucida Grande', 'Verdana', 'Geneva', 'Lucid', 'Arial', 'Helvetica', 'Avant Garde', sans-serif; text-anchor: start" x="393.125063" y="16.864312" transform="rotate(-0 393.125063 16.864312)">NIGHT</text>
    </g>
   </g>
  </g>
  <g id="axes_2">
   <g id="matplotlib.axis_3">
    <g id="ytick_6">
     <g id="line2d_47">
            <g>
       <path d="M 0 0 L 3.5 0" transform="translate(648 183.6)" style="stroke: #000000; stroke-width: 0.8"/>
      </g>
     </g>
     <g id="text_29">
      <text style="font-size: 10px; font-family: 'DejaVu Sans', 'Bitstream Vera Sans', 'Computer Modern Sans Serif', 'Lucida Grande', 'Verdana', 'Geneva', 'Lucid', 'Arial', 'Helvetica', 'Avant Garde', sans-serif; text-anchor: start" x="655" y="187.399219" transform="rotate(-0 655 187.399219)">0.0</text>
     </g>
    </g>
    <g id="ytick_7">
     <g id="line2d_48">
      <g>
       <path d="M 0 0 L 3.5 0" transform="translate(648 144.18)" style="stroke: #000000; stroke-width: 0.8"/>
      </g>
     </g>
     <g id="text_30">
      <text style="font-size: 10px; font-family: 'DejaVu Sans', 'Bitstream Vera Sans', 'Computer Modern Sans Serif', 'Lucida Grande', 'Verdana', 'Geneva', 'Lucid', 'Arial', 'Helvetica', 'Avant Garde', sans-serif; text-anchor: start" x="655" y="147.979219" transform="rotate(-0 655 147.979219)">7.3</text>
     </g>
    </g>
    <g id="ytick_8">
     <g id="line2d_49">
      <g>
       <path d="M 0 0 L 3.5 0" transform="translate(648 104.76)" style="stroke: #000000; stroke-width: 0.8"/>
      </g>
     </g>
     <g id="text_31">
      <text style="font-size: 10px; font-family: 'DejaVu Sans', 'Bitstream Vera Sans', 'Computer Modern Sans Serif', 'Lucida Grande', 'Verdana', 'Geneva', 'Lucid', 'Arial', 'Helvetica', 'Avant Garde', sans-serif; text-anchor: start" x="655" y="108.559219" transform="rotate(-0 655 108.559219)">14.5</text>
     </g>
    </g>
    <g id="ytick_9">
     <g id="line2d_50">
      <g>
       <path d="M 0 0 L 3.5 0" transform="translate(648 65.34)" style="stroke: #000000; stroke-width: 0.8"/>
      </g>
     </g>
     <g id="text_32">
      <text style="font-size: 10px; font-family: 'DejaVu Sans', 'Bitstream Vera Sans', 'Computer Modern Sans Serif', 'Lucida Grande', 'Verdana', 'Geneva', 'Lucid', 'Arial', 'Helvetica', 'Avant Garde', sans-serif; text-anchor: start" x="655" y="69.139219" transform="rotate(-0 655 69.139219)">21.8</text>
     </g>
    </g>
    <g id="ytick_10">
     <g id="line2d_51">
      <g>
       <path d="M 0 0 L 3.5 0" transform="translate(648 25.92)" style="stroke: #000000; stroke-width: 0.8"/>
      </g>
     </g>
     <g id="text_33">
      <text style="font-size: 10px; font-family: 'DejaVu Sans', 'Bitstream Vera Sans', 'Computer Modern Sans Serif', 'Lucida Grande', 'Verdana', 'Geneva', 'Lucid', 'Arial', 'Helvetica', 'Avant Garde', sans-serif; text-anchor: start" x="655" y="29.719219" transform="rotate(-0 655 29.719219)">29.1</text>
     </g>
    </g>
    <g id="text_34">
     <text style="font-size: 10px; font-family: 'DejaVu Sans', 'Bitstream Vera Sans', 'Computer Modern Sans Serif', 'Lucida Grande', 'Verdana', 'Geneva', 'Lucid', 'Arial', 'Helvetica', 'Avant Garde', sans-serif; text-anchor: middle" x="689.968" y="106.392" transform="rotate(-90 689.968 106.392)">mph</text>
    </g>
   </g>
   <g id="patch_14">
    <path d="M 90 183.6 L 90 25.92 " style="fill: none; stroke: #000000; stroke-width: 0.8; stroke-linejoin: miter; stroke-linecap: square"/>
   </g>
   <g id="patch_15">
    <path d="M 648 183.6 L 648 25.92 " style="fill: none; stroke: #000000; stroke-width: 0.8; stroke-linejoin: miter; stroke-linecap: square"/>
   </g>
   <g id="patch_16">
    <path d="M 90 183.6 L 648 183.6 " style="fill: none; stroke: #000000; stroke-width: 0.8; stroke-linejoin: miter; stroke-linecap: square"/>
   </g>
   <g id="patch_17">
    <path d="M 90 25.92 L 648 25.92 " style="fill: none; stroke: #000000; stroke-width: 0.8; stroke-linejoin: miter; stroke-linecap: square"/>
   </g>
  </g>
 </g>
 <defs>
  <clipPath id="pb94ecb44f5">
   <rect x="90" y="25.92" width="558" height="157.68"/>
  </clipPath>
 </defs>
</svg>

</body></html>
